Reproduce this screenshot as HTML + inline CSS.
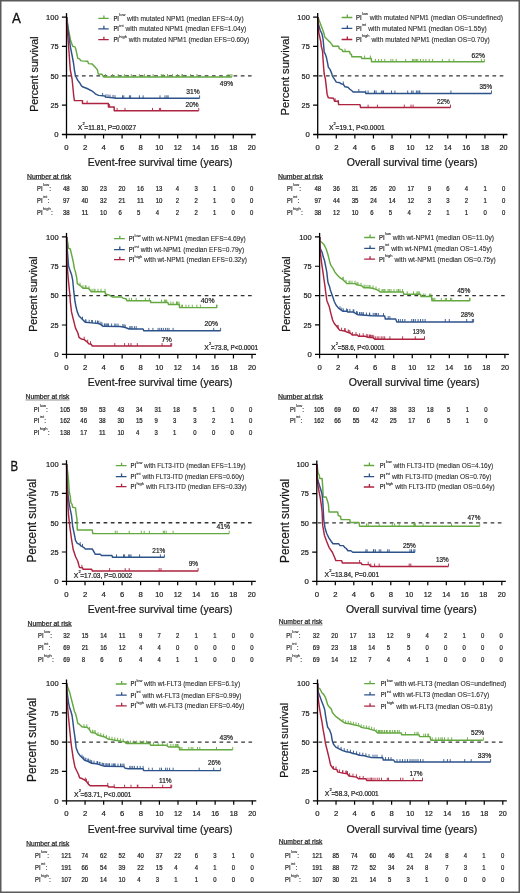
<!DOCTYPE html><html><head><meta charset="utf-8"><style>html,body{margin:0;padding:0;background:#fff}svg{display:block;will-change:transform}text{font-family:"Liberation Sans",sans-serif;stroke:#222;stroke-width:0.22px}</style></head><body>
<svg width="520" height="893" viewBox="0 0 520 893">
<rect x="0" y="0" width="520" height="893" fill="#fff"/>
<g><line x1="67.5" y1="75.8" x2="251.6" y2="75.8" stroke="#333333" stroke-width="1.35" stroke-dasharray="3.7,3.52"/><path d="M66.7 16.8 L68.5 30 L70.5 40 L72.7 46.3 L75 46.9 L76 50 L77.8 58.4 L79.5 58.9 L81.3 60.9 L87.7 61.3 L88.5 63.6 L92.3 64 L93.5 65.5 L95.2 67.1 L97.5 70 L98.2 74 L102 74.3 L103.5 76.9 L231.9 76.9" fill="none" stroke="#64a940" stroke-width="1.45" stroke-linejoin="round"/><path d="M105.5 76.9v-2.9M112.5 76.9v-2.9M118.2 76.9v-2.9M124.4 76.9v-2.9M131.3 76.9v-2.9M139.4 76.9v-2.9M144.4 76.9v-2.9M153.1 76.9v-2.9M161.3 76.9v-2.9M163.1 76.9v-2.9M167.5 76.9v-2.9M172.5 76.9v-2.9M177.5 76.9v-2.9M182.5 76.9v-2.9M181.9 76.9v-2.9M190.6 76.9v-2.9M196.9 76.9v-2.9M228.1 76.9v-2.9M230 76.9v-2.9M231.9 76.9v-2.9" stroke="#64a940" stroke-width="0.9"/><path d="M66.7 17.1 L67 21 L70.3 46.3 L72 55 L73.5 63 L74.4 70 L75.5 75.8 L77.8 80.4 L79.6 82.7 L81.3 85.6 L82.5 86.7 L87.1 88.5 L91.7 90.8 L94 92.5 L95.7 94.2 L98.6 95.4 L105 96 L105.5 97.1 L112.5 97.7 L116 98.2 L199.6 98.2" fill="none" stroke="#2d528a" stroke-width="1.45" stroke-linejoin="round"/><path d="M102.6 95.78v-2.9M106 97.14v-2.9M108 97.31v-2.9M110 97.49v-2.9M113 97.77v-2.9M115 98.06v-2.9M122.5 98.2v-2.9M123.8 98.2v-2.9M129.4 98.2v-2.9M130.6 98.2v-2.9M139.4 98.2v-2.9M143.1 98.2v-2.9M160 98.2v-2.9M165 98.2v-2.9M166.9 98.2v-2.9M168.1 98.2v-2.9M199.6 98.2v-2.9" stroke="#2d528a" stroke-width="0.9"/><path d="M66.7 17.1 L67 25.5 L68.6 46.3 L70.3 70 L72.1 79.2 L73.8 96.5 L74.4 100.6 L82.5 100.6 L82.5 103.5 L108.4 103.5 L108.4 106.9 L114.2 106.9 L114.2 110.8 L198.75 110.8" fill="none" stroke="#ad2340" stroke-width="1.45" stroke-linejoin="round"/><path d="M87.1 103.5v-2.9M109.6 106.9v-2.9M117.1 110.8v-2.9M125 110.8v-2.9M152.5 110.8v-2.9M159.4 110.8v-2.9M160.6 110.8v-2.9M198.75 110.8v-2.9" stroke="#ad2340" stroke-width="0.9"/><path d="M66.5 13.1V135.1" stroke="#000" stroke-width="1.3"/><path d="M61.9 134.5H255.8" stroke="#000" stroke-width="1.3"/><path d="M61.9 105.15H66.5M61.9 75.8H66.5M61.9 46.45H66.5M61.9 17.1H66.5M66.5 134.5V138.5M85.03 134.5V138.5M103.56 134.5V138.5M122.09 134.5V138.5M140.62 134.5V138.5M159.15 134.5V138.5M177.68 134.5V138.5M196.21 134.5V138.5M214.74 134.5V138.5M233.27 134.5V138.5M251.8 134.5V138.5" stroke="#000" stroke-width="1.2"/><text x="58.6" y="137.25" font-size="7.9" text-anchor="end" textLength="4.3" lengthAdjust="spacingAndGlyphs" fill="#222">0</text><text x="58.6" y="107.9" font-size="7.9" text-anchor="end" textLength="8.2" lengthAdjust="spacingAndGlyphs" fill="#222">25</text><text x="58.6" y="78.55" font-size="7.9" text-anchor="end" textLength="8.2" lengthAdjust="spacingAndGlyphs" fill="#222">50</text><text x="58.6" y="49.2" font-size="7.9" text-anchor="end" textLength="8.2" lengthAdjust="spacingAndGlyphs" fill="#222">75</text><text x="58.6" y="19.85" font-size="7.9" text-anchor="end" textLength="12.5" lengthAdjust="spacingAndGlyphs" fill="#222">100</text><text x="66.5" y="149.9" font-size="7.9" text-anchor="middle" textLength="4.3" lengthAdjust="spacingAndGlyphs" fill="#222">0</text><text x="85.03" y="149.9" font-size="7.9" text-anchor="middle" textLength="4.3" lengthAdjust="spacingAndGlyphs" fill="#222">2</text><text x="103.56" y="149.9" font-size="7.9" text-anchor="middle" textLength="4.3" lengthAdjust="spacingAndGlyphs" fill="#222">4</text><text x="122.09" y="149.9" font-size="7.9" text-anchor="middle" textLength="4.3" lengthAdjust="spacingAndGlyphs" fill="#222">6</text><text x="140.62" y="149.9" font-size="7.9" text-anchor="middle" textLength="4.3" lengthAdjust="spacingAndGlyphs" fill="#222">8</text><text x="159.15" y="149.9" font-size="7.9" text-anchor="middle" textLength="8.0" lengthAdjust="spacingAndGlyphs" fill="#222">10</text><text x="177.68" y="149.9" font-size="7.9" text-anchor="middle" textLength="8.0" lengthAdjust="spacingAndGlyphs" fill="#222">12</text><text x="196.21" y="149.9" font-size="7.9" text-anchor="middle" textLength="8.0" lengthAdjust="spacingAndGlyphs" fill="#222">14</text><text x="214.74" y="149.9" font-size="7.9" text-anchor="middle" textLength="8.0" lengthAdjust="spacingAndGlyphs" fill="#222">16</text><text x="233.27" y="149.9" font-size="7.9" text-anchor="middle" textLength="8.0" lengthAdjust="spacingAndGlyphs" fill="#222">18</text><text x="251.8" y="149.9" font-size="7.9" text-anchor="middle" textLength="8.0" lengthAdjust="spacingAndGlyphs" fill="#222">20</text><text transform="translate(37.8 74.15) rotate(-90)" font-size="10.9" text-anchor="middle" textLength="75.3" lengthAdjust="spacingAndGlyphs" fill="#111">Percent survival</text><text x="87.8" y="166.3" font-size="10.8" textLength="144.7" lengthAdjust="spacingAndGlyphs" fill="#111">Event-free survival time (years)</text><path d="M98.3 18.4H108.7M103.9 18.4v-3" stroke="#64a940" stroke-width="1.3"/><text x="113.4" y="20.7" font-size="7" textLength="5.6" lengthAdjust="spacingAndGlyphs" fill="#222">PI</text><text x="119.3" y="16.3" font-size="4.0" style="stroke-width:0.1px" fill="#222">low</text><text x="127" y="20.7" font-size="7" textLength="116.6" lengthAdjust="spacingAndGlyphs" fill="#2a2a2a" style="stroke-width:0.1px;stroke:#2a2a2a">with mutated NPM1 (median EFS=4.0y)</text><path d="M98.3 28.8H108.7M103.9 28.8v-3" stroke="#2d528a" stroke-width="1.3"/><text x="113.4" y="31.1" font-size="7" textLength="5.6" lengthAdjust="spacingAndGlyphs" fill="#222">PI</text><text x="119.3" y="26.7" font-size="4.0" style="stroke-width:0.1px" fill="#222">int</text><text x="125.5" y="31.1" font-size="7" textLength="120.7" lengthAdjust="spacingAndGlyphs" fill="#2a2a2a" style="stroke-width:0.1px;stroke:#2a2a2a">with mutated NPM1 (median EFS=1.04y)</text><path d="M98.3 39.7H108.7M103.9 39.7v-3" stroke="#ad2340" stroke-width="1.3"/><text x="113.4" y="42" font-size="7" textLength="5.6" lengthAdjust="spacingAndGlyphs" fill="#222">PI</text><text x="119.3" y="37.6" font-size="4.0" style="stroke-width:0.1px" fill="#222">high</text><text x="128.8" y="42" font-size="7" textLength="120.5" lengthAdjust="spacingAndGlyphs" fill="#2a2a2a" style="stroke-width:0.1px;stroke:#2a2a2a">with mutated NPM1 (median EFS=0.60y)</text><text x="219.8" y="85.6" font-size="7.3" textLength="13.3" lengthAdjust="spacingAndGlyphs" fill="#222">49%</text><text x="186.2" y="93.8" font-size="7.3" textLength="13.4" lengthAdjust="spacingAndGlyphs" fill="#222">31%</text><text x="185.6" y="107.3" font-size="7.3" textLength="13.1" lengthAdjust="spacingAndGlyphs" fill="#222">20%</text><text x="77.7" y="130.3" font-size="6.8" fill="#222">X</text><text x="82.4" y="125.3" font-size="4" fill="#222">2</text><text x="84.3" y="130.3" font-size="6.8" textLength="51.9" lengthAdjust="spacingAndGlyphs" fill="#222">=11.81, P=0.0027</text><text x="27" y="178.75" font-size="6.4" textLength="44.25" lengthAdjust="spacingAndGlyphs" fill="#222">Number at risk</text><path d="M27 179.45H71.25" stroke="#333" stroke-width="0.6"/><text x="37" y="190.7" font-size="6.9" textLength="5.5" lengthAdjust="spacingAndGlyphs" fill="#222">PI</text><text x="43.1" y="185.9" font-size="4.1" style="stroke-width:0.1px" fill="#222">low</text><text x="49.3" y="190.7" font-size="6.8" fill="#222">:</text><text x="62.98" y="190.7" font-size="6.9" textLength="6.74" lengthAdjust="spacingAndGlyphs" fill="#222">48</text><text x="81.51" y="190.7" font-size="6.9" textLength="6.74" lengthAdjust="spacingAndGlyphs" fill="#222">30</text><text x="100.04" y="190.7" font-size="6.9" textLength="6.74" lengthAdjust="spacingAndGlyphs" fill="#222">23</text><text x="118.57" y="190.7" font-size="6.9" textLength="6.74" lengthAdjust="spacingAndGlyphs" fill="#222">20</text><text x="137.1" y="190.7" font-size="6.9" textLength="6.74" lengthAdjust="spacingAndGlyphs" fill="#222">16</text><text x="155.63" y="190.7" font-size="6.9" textLength="6.74" lengthAdjust="spacingAndGlyphs" fill="#222">13</text><text x="175.87" y="190.7" font-size="6.9" textLength="3.32" lengthAdjust="spacingAndGlyphs" fill="#222">4</text><text x="194.4" y="190.7" font-size="6.9" textLength="3.32" lengthAdjust="spacingAndGlyphs" fill="#222">3</text><text x="212.93" y="190.7" font-size="6.9" textLength="3.32" lengthAdjust="spacingAndGlyphs" fill="#222">1</text><text x="231.46" y="190.7" font-size="6.9" textLength="3.32" lengthAdjust="spacingAndGlyphs" fill="#222">0</text><text x="249.99" y="190.7" font-size="6.9" textLength="3.32" lengthAdjust="spacingAndGlyphs" fill="#222">0</text><text x="37" y="202.9" font-size="6.9" textLength="5.5" lengthAdjust="spacingAndGlyphs" fill="#222">PI</text><text x="43.1" y="198.1" font-size="4.1" style="stroke-width:0.1px" fill="#222">int</text><text x="47.6" y="202.9" font-size="6.8" fill="#222">:</text><text x="62.98" y="202.9" font-size="6.9" textLength="6.74" lengthAdjust="spacingAndGlyphs" fill="#222">97</text><text x="81.51" y="202.9" font-size="6.9" textLength="6.74" lengthAdjust="spacingAndGlyphs" fill="#222">40</text><text x="100.04" y="202.9" font-size="6.9" textLength="6.74" lengthAdjust="spacingAndGlyphs" fill="#222">32</text><text x="118.57" y="202.9" font-size="6.9" textLength="6.74" lengthAdjust="spacingAndGlyphs" fill="#222">21</text><text x="137.1" y="202.9" font-size="6.9" textLength="6.74" lengthAdjust="spacingAndGlyphs" fill="#222">11</text><text x="155.63" y="202.9" font-size="6.9" textLength="6.74" lengthAdjust="spacingAndGlyphs" fill="#222">10</text><text x="175.87" y="202.9" font-size="6.9" textLength="3.32" lengthAdjust="spacingAndGlyphs" fill="#222">2</text><text x="194.4" y="202.9" font-size="6.9" textLength="3.32" lengthAdjust="spacingAndGlyphs" fill="#222">2</text><text x="212.93" y="202.9" font-size="6.9" textLength="3.32" lengthAdjust="spacingAndGlyphs" fill="#222">1</text><text x="231.46" y="202.9" font-size="6.9" textLength="3.32" lengthAdjust="spacingAndGlyphs" fill="#222">0</text><text x="249.99" y="202.9" font-size="6.9" textLength="3.32" lengthAdjust="spacingAndGlyphs" fill="#222">0</text><text x="37" y="214.8" font-size="6.9" textLength="5.5" lengthAdjust="spacingAndGlyphs" fill="#222">PI</text><text x="43.1" y="210" font-size="4.1" style="stroke-width:0.1px" fill="#222">high</text><text x="51" y="214.8" font-size="6.8" fill="#222">:</text><text x="62.98" y="214.8" font-size="6.9" textLength="6.74" lengthAdjust="spacingAndGlyphs" fill="#222">38</text><text x="81.51" y="214.8" font-size="6.9" textLength="6.74" lengthAdjust="spacingAndGlyphs" fill="#222">11</text><text x="100.04" y="214.8" font-size="6.9" textLength="6.74" lengthAdjust="spacingAndGlyphs" fill="#222">10</text><text x="118.57" y="214.8" font-size="6.9" textLength="3.32" lengthAdjust="spacingAndGlyphs" fill="#222">6</text><text x="137.1" y="214.8" font-size="6.9" textLength="3.32" lengthAdjust="spacingAndGlyphs" fill="#222">5</text><text x="155.63" y="214.8" font-size="6.9" textLength="3.32" lengthAdjust="spacingAndGlyphs" fill="#222">4</text><text x="175.87" y="214.8" font-size="6.9" textLength="3.32" lengthAdjust="spacingAndGlyphs" fill="#222">2</text><text x="194.4" y="214.8" font-size="6.9" textLength="3.32" lengthAdjust="spacingAndGlyphs" fill="#222">2</text><text x="212.93" y="214.8" font-size="6.9" textLength="3.32" lengthAdjust="spacingAndGlyphs" fill="#222">1</text><text x="231.46" y="214.8" font-size="6.9" textLength="3.32" lengthAdjust="spacingAndGlyphs" fill="#222">0</text><text x="249.99" y="214.8" font-size="6.9" textLength="3.32" lengthAdjust="spacingAndGlyphs" fill="#222">0</text></g>
<g><line x1="318.7" y1="75.8" x2="503.3" y2="75.8" stroke="#333333" stroke-width="1.35" stroke-dasharray="3.7,3.54"/><path d="M317.9 17.1 L320.2 23.2 L321.9 27.8 L323.7 32.5 L324.8 37.1 L326.5 38.8 L328.8 41.1 L330.6 42.8 L332.3 45.2 L332.9 46.3 L338.7 46.3 L339.2 48.6 L342.1 49.8 L342.7 51.5 L349.6 51.5 L350.2 53.8 L351.3 54.4 L351.9 56.7 L361.2 56.7 L361.7 58.4 L371.3 58.4 L371.5 61.8 L484.5 61.8" fill="none" stroke="#64a940" stroke-width="1.45" stroke-linejoin="round"/><path d="M345 51.5v-2.9M364.6 58.4v-2.9M370.4 58.4v-2.9M375.4 61.8v-2.9M378.7 61.8v-2.9M381.4 61.8v-2.9M384.8 61.8v-2.9M390.9 61.8v-2.9M392.9 61.8v-2.9M396.2 61.8v-2.9M405.7 61.8v-2.9M412.4 61.8v-2.9M413.7 61.8v-2.9M415.1 61.8v-2.9M416.4 61.8v-2.9M417.8 61.8v-2.9M420.5 61.8v-2.9M423.2 61.8v-2.9M425.9 61.8v-2.9M429.2 61.8v-2.9M432.6 61.8v-2.9M442.4 61.8v-2.9M449.1 61.8v-2.9M453.8 61.8v-2.9M481.4 61.8v-2.9M484.3 61.8v-2.9" stroke="#64a940" stroke-width="0.9"/><path d="M317.9 17.1 L318.2 23.2 L320.2 30.2 L321.9 33.6 L323.1 39.4 L323.7 46.3 L324.2 52.1 L325.4 54.4 L326.5 57.8 L327.7 63.6 L328.3 67.1 L330 69.4 L331.7 73.4 L332.3 75.8 L335.2 80.4 L336.3 82.1 L339.8 82.7 L341 83.8 L343.3 84.4 L345 86.7 L347.9 87.3 L349.6 89 L352.5 91.3 L353.1 91.9 L365.2 91.9 L365.8 93.4 L491.5 93.4" fill="none" stroke="#2d528a" stroke-width="1.45" stroke-linejoin="round"/><path d="M343.3 84.4v-2.9M358.8 91.9v-2.9M365.8 93.4v-2.9M368.1 93.4v-2.9M374.4 93.4v-2.9M374.7 93.4v-2.9M376.1 93.4v-2.9M381.4 93.4v-2.9M382.8 93.4v-2.9M383.5 93.4v-2.9M391.5 93.4v-2.9M394.9 93.4v-2.9M407.7 93.4v-2.9M411.7 93.4v-2.9M413.1 93.4v-2.9M416.4 93.4v-2.9M417.8 93.4v-2.9M419.1 93.4v-2.9M419.8 93.4v-2.9M450.9 93.4v-2.9M491.5 93.4v-2.9" stroke="#2d528a" stroke-width="0.9"/><path d="M317.9 17.1 L317.9 24.4 L319 33.6 L320.8 41.7 L321.3 46.3 L322.5 50.9 L323.1 60.2 L323.7 68.2 L324.2 74 L325.4 79.2 L327.1 94.2 L328.3 97.7 L333.5 98.3 L334.6 101.2 L338.1 101.2 L338.7 104.6 L360 104.6 L360.6 107.5 L450.5 107.5" fill="none" stroke="#ad2340" stroke-width="1.45" stroke-linejoin="round"/><path d="M335.2 101.2v-2.9M338.4 102.9v-2.9M368.1 107.5v-2.9M377.4 107.5v-2.9M404.3 107.5v-2.9M411 107.5v-2.9M413.1 107.5v-2.9M450.5 107.5v-2.9" stroke="#ad2340" stroke-width="0.9"/><path d="M317.7 13.1V135.1" stroke="#000" stroke-width="1.3"/><path d="M313.1 134.5H507.5" stroke="#000" stroke-width="1.3"/><path d="M313.1 105.15H317.7M313.1 75.8H317.7M313.1 46.45H317.7M313.1 17.1H317.7M317.7 134.5V138.5M336.28 134.5V138.5M354.86 134.5V138.5M373.44 134.5V138.5M392.02 134.5V138.5M410.6 134.5V138.5M429.18 134.5V138.5M447.76 134.5V138.5M466.34 134.5V138.5M484.92 134.5V138.5M503.5 134.5V138.5" stroke="#000" stroke-width="1.2"/><text x="309.8" y="137.25" font-size="7.9" text-anchor="end" textLength="4.3" lengthAdjust="spacingAndGlyphs" fill="#222">0</text><text x="309.8" y="107.9" font-size="7.9" text-anchor="end" textLength="8.2" lengthAdjust="spacingAndGlyphs" fill="#222">25</text><text x="309.8" y="78.55" font-size="7.9" text-anchor="end" textLength="8.2" lengthAdjust="spacingAndGlyphs" fill="#222">50</text><text x="309.8" y="49.2" font-size="7.9" text-anchor="end" textLength="8.2" lengthAdjust="spacingAndGlyphs" fill="#222">75</text><text x="309.8" y="19.85" font-size="7.9" text-anchor="end" textLength="12.5" lengthAdjust="spacingAndGlyphs" fill="#222">100</text><text x="317.7" y="149.9" font-size="7.9" text-anchor="middle" textLength="4.3" lengthAdjust="spacingAndGlyphs" fill="#222">0</text><text x="336.28" y="149.9" font-size="7.9" text-anchor="middle" textLength="4.3" lengthAdjust="spacingAndGlyphs" fill="#222">2</text><text x="354.86" y="149.9" font-size="7.9" text-anchor="middle" textLength="4.3" lengthAdjust="spacingAndGlyphs" fill="#222">4</text><text x="373.44" y="149.9" font-size="7.9" text-anchor="middle" textLength="4.3" lengthAdjust="spacingAndGlyphs" fill="#222">6</text><text x="392.02" y="149.9" font-size="7.9" text-anchor="middle" textLength="4.3" lengthAdjust="spacingAndGlyphs" fill="#222">8</text><text x="410.6" y="149.9" font-size="7.9" text-anchor="middle" textLength="8.0" lengthAdjust="spacingAndGlyphs" fill="#222">10</text><text x="429.18" y="149.9" font-size="7.9" text-anchor="middle" textLength="8.0" lengthAdjust="spacingAndGlyphs" fill="#222">12</text><text x="447.76" y="149.9" font-size="7.9" text-anchor="middle" textLength="8.0" lengthAdjust="spacingAndGlyphs" fill="#222">14</text><text x="466.34" y="149.9" font-size="7.9" text-anchor="middle" textLength="8.0" lengthAdjust="spacingAndGlyphs" fill="#222">16</text><text x="484.92" y="149.9" font-size="7.9" text-anchor="middle" textLength="8.0" lengthAdjust="spacingAndGlyphs" fill="#222">18</text><text x="503.5" y="149.9" font-size="7.9" text-anchor="middle" textLength="8.0" lengthAdjust="spacingAndGlyphs" fill="#222">20</text><text transform="translate(288.9 75.75) rotate(-90)" font-size="11.48" text-anchor="middle" textLength="79.3" lengthAdjust="spacingAndGlyphs" fill="#111">Percent survival</text><text x="346.8" y="166.3" font-size="10.8" textLength="130.8" lengthAdjust="spacingAndGlyphs" fill="#111">Overall survival time (years)</text><path d="M341.6 17.5H352.3M347.35 17.5v-3" stroke="#64a940" stroke-width="1.3"/><text x="356.1" y="19.8" font-size="7" textLength="5.6" lengthAdjust="spacingAndGlyphs" fill="#222">PI</text><text x="362" y="15.4" font-size="4.0" style="stroke-width:0.1px" fill="#222">low</text><text x="369.7" y="19.8" font-size="7" textLength="133.3" lengthAdjust="spacingAndGlyphs" fill="#2a2a2a" style="stroke-width:0.1px;stroke:#2a2a2a">with mutated NPM1 (median OS=undefined)</text><path d="M341.6 28.4H352.3M347.35 28.4v-3" stroke="#2d528a" stroke-width="1.3"/><text x="356.1" y="30.7" font-size="7" textLength="5.6" lengthAdjust="spacingAndGlyphs" fill="#222">PI</text><text x="362" y="26.3" font-size="4.0" style="stroke-width:0.1px" fill="#222">int</text><text x="368.2" y="30.7" font-size="7" textLength="118.6" lengthAdjust="spacingAndGlyphs" fill="#2a2a2a" style="stroke-width:0.1px;stroke:#2a2a2a">with mutated NPM1 (median OS=1.55y)</text><path d="M341.6 39.5H352.3M347.35 39.5v-3" stroke="#ad2340" stroke-width="1.3"/><text x="356.1" y="41.8" font-size="7" textLength="5.6" lengthAdjust="spacingAndGlyphs" fill="#222">PI</text><text x="362" y="37.4" font-size="4.0" style="stroke-width:0.1px" fill="#222">high</text><text x="371.5" y="41.8" font-size="7" textLength="118.2" lengthAdjust="spacingAndGlyphs" fill="#2a2a2a" style="stroke-width:0.1px;stroke:#2a2a2a">with mutated NPM1 (median OS=0.70y)</text><text x="471.5" y="57.5" font-size="7.3" textLength="13.3" lengthAdjust="spacingAndGlyphs" fill="#222">62%</text><text x="479.6" y="89.2" font-size="7.3" textLength="12.5" lengthAdjust="spacingAndGlyphs" fill="#222">35%</text><text x="436.9" y="103.7" font-size="7.3" textLength="12.9" lengthAdjust="spacingAndGlyphs" fill="#222">22%</text><text x="328.9" y="130" font-size="6.8" fill="#222">X</text><text x="333.6" y="125" font-size="4" fill="#222">2</text><text x="335.5" y="130" font-size="6.8" textLength="49.1" lengthAdjust="spacingAndGlyphs" fill="#222">=19.1, P<0.0001</text><text x="278" y="178.75" font-size="6.4" textLength="45" lengthAdjust="spacingAndGlyphs" fill="#222">Number at risk</text><path d="M278 179.45H323" stroke="#333" stroke-width="0.6"/><text x="287" y="190.7" font-size="6.9" textLength="5.5" lengthAdjust="spacingAndGlyphs" fill="#222">PI</text><text x="293.1" y="185.9" font-size="4.1" style="stroke-width:0.1px" fill="#222">low</text><text x="299.3" y="190.7" font-size="6.8" fill="#222">:</text><text x="314.48" y="190.7" font-size="6.9" textLength="6.74" lengthAdjust="spacingAndGlyphs" fill="#222">48</text><text x="333.06" y="190.7" font-size="6.9" textLength="6.74" lengthAdjust="spacingAndGlyphs" fill="#222">36</text><text x="351.64" y="190.7" font-size="6.9" textLength="6.74" lengthAdjust="spacingAndGlyphs" fill="#222">31</text><text x="370.22" y="190.7" font-size="6.9" textLength="6.74" lengthAdjust="spacingAndGlyphs" fill="#222">26</text><text x="388.8" y="190.7" font-size="6.9" textLength="6.74" lengthAdjust="spacingAndGlyphs" fill="#222">20</text><text x="407.38" y="190.7" font-size="6.9" textLength="6.74" lengthAdjust="spacingAndGlyphs" fill="#222">17</text><text x="427.67" y="190.7" font-size="6.9" textLength="3.32" lengthAdjust="spacingAndGlyphs" fill="#222">9</text><text x="446.25" y="190.7" font-size="6.9" textLength="3.32" lengthAdjust="spacingAndGlyphs" fill="#222">6</text><text x="464.83" y="190.7" font-size="6.9" textLength="3.32" lengthAdjust="spacingAndGlyphs" fill="#222">4</text><text x="483.41" y="190.7" font-size="6.9" textLength="3.32" lengthAdjust="spacingAndGlyphs" fill="#222">1</text><text x="501.99" y="190.7" font-size="6.9" textLength="3.32" lengthAdjust="spacingAndGlyphs" fill="#222">0</text><text x="287" y="202.9" font-size="6.9" textLength="5.5" lengthAdjust="spacingAndGlyphs" fill="#222">PI</text><text x="293.1" y="198.1" font-size="4.1" style="stroke-width:0.1px" fill="#222">int</text><text x="297.6" y="202.9" font-size="6.8" fill="#222">:</text><text x="314.48" y="202.9" font-size="6.9" textLength="6.74" lengthAdjust="spacingAndGlyphs" fill="#222">97</text><text x="333.06" y="202.9" font-size="6.9" textLength="6.74" lengthAdjust="spacingAndGlyphs" fill="#222">44</text><text x="351.64" y="202.9" font-size="6.9" textLength="6.74" lengthAdjust="spacingAndGlyphs" fill="#222">35</text><text x="370.22" y="202.9" font-size="6.9" textLength="6.74" lengthAdjust="spacingAndGlyphs" fill="#222">24</text><text x="388.8" y="202.9" font-size="6.9" textLength="6.74" lengthAdjust="spacingAndGlyphs" fill="#222">14</text><text x="407.38" y="202.9" font-size="6.9" textLength="6.74" lengthAdjust="spacingAndGlyphs" fill="#222">12</text><text x="427.67" y="202.9" font-size="6.9" textLength="3.32" lengthAdjust="spacingAndGlyphs" fill="#222">3</text><text x="446.25" y="202.9" font-size="6.9" textLength="3.32" lengthAdjust="spacingAndGlyphs" fill="#222">3</text><text x="464.83" y="202.9" font-size="6.9" textLength="3.32" lengthAdjust="spacingAndGlyphs" fill="#222">2</text><text x="483.41" y="202.9" font-size="6.9" textLength="3.32" lengthAdjust="spacingAndGlyphs" fill="#222">1</text><text x="501.99" y="202.9" font-size="6.9" textLength="3.32" lengthAdjust="spacingAndGlyphs" fill="#222">0</text><text x="287" y="214.8" font-size="6.9" textLength="5.5" lengthAdjust="spacingAndGlyphs" fill="#222">PI</text><text x="293.1" y="210" font-size="4.1" style="stroke-width:0.1px" fill="#222">high</text><text x="301" y="214.8" font-size="6.8" fill="#222">:</text><text x="314.48" y="214.8" font-size="6.9" textLength="6.74" lengthAdjust="spacingAndGlyphs" fill="#222">38</text><text x="333.06" y="214.8" font-size="6.9" textLength="6.74" lengthAdjust="spacingAndGlyphs" fill="#222">12</text><text x="351.64" y="214.8" font-size="6.9" textLength="6.74" lengthAdjust="spacingAndGlyphs" fill="#222">10</text><text x="370.22" y="214.8" font-size="6.9" textLength="3.32" lengthAdjust="spacingAndGlyphs" fill="#222">6</text><text x="388.8" y="214.8" font-size="6.9" textLength="3.32" lengthAdjust="spacingAndGlyphs" fill="#222">5</text><text x="407.38" y="214.8" font-size="6.9" textLength="3.32" lengthAdjust="spacingAndGlyphs" fill="#222">4</text><text x="427.67" y="214.8" font-size="6.9" textLength="3.32" lengthAdjust="spacingAndGlyphs" fill="#222">2</text><text x="446.25" y="214.8" font-size="6.9" textLength="3.32" lengthAdjust="spacingAndGlyphs" fill="#222">1</text><text x="464.83" y="214.8" font-size="6.9" textLength="3.32" lengthAdjust="spacingAndGlyphs" fill="#222">1</text><text x="483.41" y="214.8" font-size="6.9" textLength="3.32" lengthAdjust="spacingAndGlyphs" fill="#222">0</text><text x="501.99" y="214.8" font-size="6.9" textLength="3.32" lengthAdjust="spacingAndGlyphs" fill="#222">0</text></g>
<g><line x1="67.5" y1="295.65" x2="251.8" y2="295.65" stroke="#333333" stroke-width="1.35" stroke-dasharray="3.7,3.52"/><path d="M66.7 236.9 L68 244.4 L68.6 248.4 L70.3 249 L71.5 254.2 L73.2 261.7 L74.4 268.6 L75.5 272.1 L76.7 277.8 L77.3 283.6 L79 284.8 L81.3 286.5 L83 288.2 L88.2 288.2 L90 290 L91.1 291.7 L105 291.7 L105.5 294 L107.8 294.6 L109.6 295.2 L111.3 296.3 L112.5 296.9 L121.7 296.9 L122.8 298.1 L124.6 298.5 L126.3 299 L126.9 300.8 L150.6 300.8 L150.6 302.5 L167.9 302.5 L168.5 304.5 L179.2 304.5 L179.6 307.6 L217.1 307.6" fill="none" stroke="#64a940" stroke-width="1.45" stroke-linejoin="round"/><path d="M85.3 288.2v-2.9M94 291.7v-2.9M105 291.7v-2.9M129.2 300.8v-2.9M131.5 300.8v-2.9M136.2 300.8v-2.9M145.4 300.8v-2.9M149.4 300.8v-2.9M161.5 302.5v-2.9M164.4 302.5v-2.9M165.6 302.5v-2.9M166.7 302.5v-2.9M170.8 304.5v-2.9M173.1 304.5v-2.9M176.5 304.5v-2.9M177.7 304.5v-2.9M176.7 304.5v-2.9M179 304.5v-2.9M181.3 307.6v-2.9M182.5 307.6v-2.9M186 307.6v-2.9M188.8 307.6v-2.9M192.3 307.6v-2.9M196.9 307.6v-2.9M200.4 307.6v-2.9M216.5 307.6v-2.9M217.1 307.6v-2.9M80 285.54v-2.9M83 288.2v-2.9M86 288.2v-2.9M89 289v-2.9M92 291.7v-2.9M95 291.7v-2.9M98 291.7v-2.9M101 291.7v-2.9" stroke="#64a940" stroke-width="0.9"/><path d="M66.7 236.9 L66.7 242.1 L67.5 252.5 L68.6 266.3 L69.8 269.8 L71.5 274.4 L72.7 280.2 L73.8 291.7 L75 301.5 L76.1 307.3 L77.3 311.9 L79 316 L81.3 318.3 L83 320 L85.3 322.3 L91.7 322.9 L98.6 323.5 L100.9 324.6 L103.2 326.3 L120 326.5 L124.6 327.3 L129.2 329 L143.1 329 L143.7 330.8 L220.6 330.8" fill="none" stroke="#2d528a" stroke-width="1.45" stroke-linejoin="round"/><path d="M82.5 319.5v-2.9M85.3 322.3v-2.9M91.7 322.9v-2.9M97.5 323.4v-2.9M100.9 324.6v-2.9M104.4 326.31v-2.9M106.7 326.34v-2.9M107.8 326.35v-2.9M116 326.45v-2.9M122.8 326.99v-2.9M124 327.2v-2.9M125.2 327.52v-2.9M129.8 329v-2.9M131 329v-2.9M132.1 329v-2.9M134.4 329v-2.9M136.2 329v-2.9M148.8 330.8v-2.9M152.9 330.8v-2.9M158.1 330.8v-2.9M159.8 330.8v-2.9M161.5 330.8v-2.9M163.3 330.8v-2.9M165.6 330.8v-2.9M167.3 330.8v-2.9M169 330.8v-2.9M173.1 330.8v-2.9M213.7 330.8v-2.9M220.6 330.8v-2.9M86 322.37v-2.9M89.2 322.67v-2.9M92.4 322.96v-2.9M95.6 323.24v-2.9M98.8 323.6v-2.9M102 325.41v-2.9M105.2 326.32v-2.9M108.4 326.36v-2.9M111.6 326.4v-2.9M114.8 326.44v-2.9M118 326.48v-2.9" stroke="#2d528a" stroke-width="0.9"/><path d="M66.7 236.9 L66.7 244.4 L67.2 266.3 L68.4 280.2 L69.8 294 L70.3 301.5 L71.5 311.9 L73.2 318.8 L75.5 328.1 L77.8 332.7 L79 337.3 L81.3 339 L84.2 339.6 L87.1 341.9 L88.8 343.7 L91.1 344.2 L92.3 346 L171.7 346" fill="none" stroke="#ad2340" stroke-width="1.45" stroke-linejoin="round"/><path d="M84.2 339.6v-2.9M87.7 342.54v-2.9M90.5 344.07v-2.9M114.8 346v-2.9M124.6 346v-2.9M128.7 346v-2.9M131 346v-2.9M137.3 346v-2.9M162.1 346v-2.9M170.8 346v-2.9M171.7 346v-2.9" stroke="#ad2340" stroke-width="0.9"/><path d="M66.5 232.9V355" stroke="#000" stroke-width="1.3"/><path d="M61.9 354.4H256" stroke="#000" stroke-width="1.3"/><path d="M61.9 325.02H66.5M61.9 295.65H66.5M61.9 266.27H66.5M61.9 236.9H66.5M66.5 354.4V358.4M85.05 354.4V358.4M103.6 354.4V358.4M122.15 354.4V358.4M140.7 354.4V358.4M159.25 354.4V358.4M177.8 354.4V358.4M196.35 354.4V358.4M214.9 354.4V358.4M233.45 354.4V358.4M252 354.4V358.4" stroke="#000" stroke-width="1.2"/><text x="58.6" y="357.15" font-size="7.9" text-anchor="end" textLength="4.3" lengthAdjust="spacingAndGlyphs" fill="#222">0</text><text x="58.6" y="327.77" font-size="7.9" text-anchor="end" textLength="8.2" lengthAdjust="spacingAndGlyphs" fill="#222">25</text><text x="58.6" y="298.4" font-size="7.9" text-anchor="end" textLength="8.2" lengthAdjust="spacingAndGlyphs" fill="#222">50</text><text x="58.6" y="269.02" font-size="7.9" text-anchor="end" textLength="8.2" lengthAdjust="spacingAndGlyphs" fill="#222">75</text><text x="58.6" y="239.65" font-size="7.9" text-anchor="end" textLength="12.5" lengthAdjust="spacingAndGlyphs" fill="#222">100</text><text x="66.5" y="369.8" font-size="7.9" text-anchor="middle" textLength="4.3" lengthAdjust="spacingAndGlyphs" fill="#222">0</text><text x="85.05" y="369.8" font-size="7.9" text-anchor="middle" textLength="4.3" lengthAdjust="spacingAndGlyphs" fill="#222">2</text><text x="103.6" y="369.8" font-size="7.9" text-anchor="middle" textLength="4.3" lengthAdjust="spacingAndGlyphs" fill="#222">4</text><text x="122.15" y="369.8" font-size="7.9" text-anchor="middle" textLength="4.3" lengthAdjust="spacingAndGlyphs" fill="#222">6</text><text x="140.7" y="369.8" font-size="7.9" text-anchor="middle" textLength="4.3" lengthAdjust="spacingAndGlyphs" fill="#222">8</text><text x="159.25" y="369.8" font-size="7.9" text-anchor="middle" textLength="8.0" lengthAdjust="spacingAndGlyphs" fill="#222">10</text><text x="177.8" y="369.8" font-size="7.9" text-anchor="middle" textLength="8.0" lengthAdjust="spacingAndGlyphs" fill="#222">12</text><text x="196.35" y="369.8" font-size="7.9" text-anchor="middle" textLength="8.0" lengthAdjust="spacingAndGlyphs" fill="#222">14</text><text x="214.9" y="369.8" font-size="7.9" text-anchor="middle" textLength="8.0" lengthAdjust="spacingAndGlyphs" fill="#222">16</text><text x="233.45" y="369.8" font-size="7.9" text-anchor="middle" textLength="8.0" lengthAdjust="spacingAndGlyphs" fill="#222">18</text><text x="252" y="369.8" font-size="7.9" text-anchor="middle" textLength="8.0" lengthAdjust="spacingAndGlyphs" fill="#222">20</text><text transform="translate(37 294.15) rotate(-90)" font-size="10.9" text-anchor="middle" textLength="75.3" lengthAdjust="spacingAndGlyphs" fill="#111">Percent survival</text><text x="87.8" y="386.2" font-size="10.8" textLength="144.7" lengthAdjust="spacingAndGlyphs" fill="#111">Event-free survival time (years)</text><path d="M114 238.7H124.8M119.8 238.7v-3" stroke="#64a940" stroke-width="1.3"/><text x="128.7" y="241" font-size="7" textLength="5.6" lengthAdjust="spacingAndGlyphs" fill="#222">PI</text><text x="134.6" y="236.6" font-size="4.0" style="stroke-width:0.1px" fill="#222">low</text><text x="142.3" y="241" font-size="7" textLength="103.5" lengthAdjust="spacingAndGlyphs" fill="#2a2a2a" style="stroke-width:0.1px;stroke:#2a2a2a">with wt-NPM1 (median EFS=4.69y)</text><path d="M114 249.6H124.8M119.8 249.6v-3" stroke="#2d528a" stroke-width="1.3"/><text x="128.7" y="251.9" font-size="7" textLength="5.6" lengthAdjust="spacingAndGlyphs" fill="#222">PI</text><text x="134.6" y="247.5" font-size="4.0" style="stroke-width:0.1px" fill="#222">int</text><text x="140.8" y="251.9" font-size="7" textLength="103.3" lengthAdjust="spacingAndGlyphs" fill="#2a2a2a" style="stroke-width:0.1px;stroke:#2a2a2a">with wt-NPM1 (median EFS=0.79y)</text><path d="M114 259.7H124.8M119.8 259.7v-3" stroke="#ad2340" stroke-width="1.3"/><text x="128.7" y="262" font-size="7" textLength="5.6" lengthAdjust="spacingAndGlyphs" fill="#222">PI</text><text x="134.6" y="257.6" font-size="4.0" style="stroke-width:0.1px" fill="#222">high</text><text x="144.1" y="262" font-size="7" textLength="102.9" lengthAdjust="spacingAndGlyphs" fill="#2a2a2a" style="stroke-width:0.1px;stroke:#2a2a2a">with wt-NPM1 (median EFS=0.32y)</text><text x="200.8" y="303.1" font-size="7.3" textLength="13.7" lengthAdjust="spacingAndGlyphs" fill="#222">40%</text><text x="204.6" y="325.5" font-size="7.3" textLength="13.5" lengthAdjust="spacingAndGlyphs" fill="#222">20%</text><text x="161.6" y="341.8" font-size="7.3" textLength="10.2" lengthAdjust="spacingAndGlyphs" fill="#222">7%</text><text x="204.2" y="350.3" font-size="6.8" fill="#222">X</text><text x="208.9" y="345.3" font-size="4" fill="#222">2</text><text x="210.8" y="350.3" font-size="6.8" textLength="47.2" lengthAdjust="spacingAndGlyphs" fill="#222">=73.8, P<0.0001</text><text x="25.5" y="399.25" font-size="6.4" textLength="44" lengthAdjust="spacingAndGlyphs" fill="#222">Number at risk</text><path d="M25.5 399.95H69.5" stroke="#333" stroke-width="0.6"/><text x="33.75" y="411.65" font-size="6.9" textLength="5.5" lengthAdjust="spacingAndGlyphs" fill="#222">PI</text><text x="39.85" y="406.85" font-size="4.1" style="stroke-width:0.1px" fill="#222">low</text><text x="46.05" y="411.65" font-size="6.8" fill="#222">:</text><text x="60.07" y="411.65" font-size="6.9" textLength="10.16" lengthAdjust="spacingAndGlyphs" fill="#222">105</text><text x="80.33" y="411.65" font-size="6.9" textLength="6.74" lengthAdjust="spacingAndGlyphs" fill="#222">59</text><text x="98.88" y="411.65" font-size="6.9" textLength="6.74" lengthAdjust="spacingAndGlyphs" fill="#222">53</text><text x="117.43" y="411.65" font-size="6.9" textLength="6.74" lengthAdjust="spacingAndGlyphs" fill="#222">43</text><text x="135.98" y="411.65" font-size="6.9" textLength="6.74" lengthAdjust="spacingAndGlyphs" fill="#222">34</text><text x="154.53" y="411.65" font-size="6.9" textLength="6.74" lengthAdjust="spacingAndGlyphs" fill="#222">31</text><text x="173.08" y="411.65" font-size="6.9" textLength="6.74" lengthAdjust="spacingAndGlyphs" fill="#222">18</text><text x="193.34" y="411.65" font-size="6.9" textLength="3.32" lengthAdjust="spacingAndGlyphs" fill="#222">5</text><text x="211.89" y="411.65" font-size="6.9" textLength="3.32" lengthAdjust="spacingAndGlyphs" fill="#222">1</text><text x="230.44" y="411.65" font-size="6.9" textLength="3.32" lengthAdjust="spacingAndGlyphs" fill="#222">0</text><text x="248.99" y="411.65" font-size="6.9" textLength="3.32" lengthAdjust="spacingAndGlyphs" fill="#222">0</text><text x="33.75" y="423.15" font-size="6.9" textLength="5.5" lengthAdjust="spacingAndGlyphs" fill="#222">PI</text><text x="39.85" y="418.35" font-size="4.1" style="stroke-width:0.1px" fill="#222">int</text><text x="44.35" y="423.15" font-size="6.8" fill="#222">:</text><text x="60.07" y="423.15" font-size="6.9" textLength="10.16" lengthAdjust="spacingAndGlyphs" fill="#222">162</text><text x="80.33" y="423.15" font-size="6.9" textLength="6.74" lengthAdjust="spacingAndGlyphs" fill="#222">46</text><text x="98.88" y="423.15" font-size="6.9" textLength="6.74" lengthAdjust="spacingAndGlyphs" fill="#222">38</text><text x="117.43" y="423.15" font-size="6.9" textLength="6.74" lengthAdjust="spacingAndGlyphs" fill="#222">30</text><text x="135.98" y="423.15" font-size="6.9" textLength="6.74" lengthAdjust="spacingAndGlyphs" fill="#222">15</text><text x="154.53" y="423.15" font-size="6.9" textLength="3.32" lengthAdjust="spacingAndGlyphs" fill="#222">9</text><text x="173.08" y="423.15" font-size="6.9" textLength="3.32" lengthAdjust="spacingAndGlyphs" fill="#222">3</text><text x="193.34" y="423.15" font-size="6.9" textLength="3.32" lengthAdjust="spacingAndGlyphs" fill="#222">3</text><text x="211.89" y="423.15" font-size="6.9" textLength="3.32" lengthAdjust="spacingAndGlyphs" fill="#222">2</text><text x="230.44" y="423.15" font-size="6.9" textLength="3.32" lengthAdjust="spacingAndGlyphs" fill="#222">1</text><text x="248.99" y="423.15" font-size="6.9" textLength="3.32" lengthAdjust="spacingAndGlyphs" fill="#222">0</text><text x="33.75" y="434.9" font-size="6.9" textLength="5.5" lengthAdjust="spacingAndGlyphs" fill="#222">PI</text><text x="39.85" y="430.1" font-size="4.1" style="stroke-width:0.1px" fill="#222">high</text><text x="47.75" y="434.9" font-size="6.8" fill="#222">:</text><text x="60.07" y="434.9" font-size="6.9" textLength="10.16" lengthAdjust="spacingAndGlyphs" fill="#222">138</text><text x="80.33" y="434.9" font-size="6.9" textLength="6.74" lengthAdjust="spacingAndGlyphs" fill="#222">17</text><text x="98.88" y="434.9" font-size="6.9" textLength="6.74" lengthAdjust="spacingAndGlyphs" fill="#222">11</text><text x="117.43" y="434.9" font-size="6.9" textLength="6.74" lengthAdjust="spacingAndGlyphs" fill="#222">10</text><text x="135.98" y="434.9" font-size="6.9" textLength="3.32" lengthAdjust="spacingAndGlyphs" fill="#222">4</text><text x="154.53" y="434.9" font-size="6.9" textLength="3.32" lengthAdjust="spacingAndGlyphs" fill="#222">3</text><text x="173.08" y="434.9" font-size="6.9" textLength="3.32" lengthAdjust="spacingAndGlyphs" fill="#222">1</text><text x="193.34" y="434.9" font-size="6.9" textLength="3.32" lengthAdjust="spacingAndGlyphs" fill="#222">0</text><text x="211.89" y="434.9" font-size="6.9" textLength="3.32" lengthAdjust="spacingAndGlyphs" fill="#222">0</text><text x="230.44" y="434.9" font-size="6.9" textLength="3.32" lengthAdjust="spacingAndGlyphs" fill="#222">0</text><text x="248.99" y="434.9" font-size="6.9" textLength="3.32" lengthAdjust="spacingAndGlyphs" fill="#222">0</text></g>
<g><line x1="320.6" y1="295.6" x2="504.7" y2="295.6" stroke="#333333" stroke-width="1.35" stroke-dasharray="3.7,3.52"/><path d="M319.8 236.9 L319.9 240.9 L322.2 242.7 L323.9 244.4 L325.1 246.7 L326.2 249 L328 254.8 L329.7 261.7 L330.8 265.2 L333.2 268.6 L334.9 272.1 L337.2 275 L339.5 277.3 L341.8 279 L343.5 280.2 L345.8 282.5 L347 283.6 L355.1 283.6 L356.8 284.8 L362 285.9 L363.7 287.7 L368.3 287.7 L372.4 288.2 L376.6 289.6 L378.9 290.8 L380.1 291.9 L403.2 291.9 L403.7 294.2 L420.5 294.2 L421 296.5 L431.5 296.5 L432 300.8 L470.1 300.8" fill="none" stroke="#64a940" stroke-width="1.45" stroke-linejoin="round"/><path d="M343 279.85v-2.9M350 283.6v-2.9M357 284.84v-2.9M365 287.7v-2.9M369 287.79v-2.9M383 291.9v-2.9M384.1 291.9v-2.9M389.3 291.9v-2.9M398.5 291.9v-2.9M402.6 291.9v-2.9M407.2 294.2v-2.9M413.5 294.2v-2.9M417 294.2v-2.9M418.1 294.2v-2.9M419.3 294.2v-2.9M423.3 296.5v-2.9M425.1 296.5v-2.9M429.7 296.5v-2.9M430.9 296.5v-2.9M432.6 300.8v-2.9M433.8 300.8v-2.9M434.9 300.8v-2.9M441.3 300.8v-2.9M445.3 300.8v-2.9M446.5 300.8v-2.9M450.5 300.8v-2.9M451.7 300.8v-2.9M469.5 300.8v-2.9M470.1 300.8v-2.9M343 279.85v-2.9M346 282.68v-2.9M349 283.6v-2.9M352 283.6v-2.9M355 283.6v-2.9M358 285.05v-2.9M361 285.69v-2.9M364 287.7v-2.9M367 287.7v-2.9M370 287.91v-2.9M373 288.4v-2.9M376 289.4v-2.9M379 290.89v-2.9M382 291.9v-2.9M385 291.9v-2.9M388 291.9v-2.9M391 291.9v-2.9M394 291.9v-2.9M397 291.9v-2.9M400 291.9v-2.9" stroke="#64a940" stroke-width="0.9"/><path d="M319.8 236.9 L319.8 243.2 L320.5 249 L322.2 252.5 L323.3 257.1 L324.5 260.5 L325.7 266.3 L326.8 272.1 L327.4 277.8 L328 282.5 L329.7 287.1 L330.3 290 L332.6 296.3 L334.3 301.5 L336 305 L338.3 307.9 L341.2 310.2 L343 311.3 L347 311.3 L347.6 311.9 L352.8 311.9 L355.1 313.1 L356.8 314.2 L358.5 314.8 L372 315.8 L384.7 316 L385.3 319 L395.7 319 L396.8 321.9 L473.6 321.9" fill="none" stroke="#2d528a" stroke-width="1.45" stroke-linejoin="round"/><path d="M341.8 310.57v-2.9M347.6 311.9v-2.9M353.9 312.47v-2.9M357.4 314.41v-2.9M359.7 314.89v-2.9M361.4 315.01v-2.9M363.2 315.15v-2.9M369.5 315.61v-2.9M375.8 315.86v-2.9M373.2 315.82v-2.9M374.9 315.85v-2.9M376.6 315.87v-2.9M378.3 315.9v-2.9M383.5 315.98v-2.9M388.2 319v-2.9M389.9 319v-2.9M398.5 321.9v-2.9M400.3 321.9v-2.9M402.6 321.9v-2.9M404.9 321.9v-2.9M411.8 321.9v-2.9M413.5 321.9v-2.9M415.3 321.9v-2.9M418.1 321.9v-2.9M420.5 321.9v-2.9M422.8 321.9v-2.9M425.1 321.9v-2.9M445.3 321.9v-2.9M449.3 321.9v-2.9M466.7 321.9v-2.9M472.4 321.9v-2.9M473.6 321.9v-2.9M340 309.25v-2.9M343.3 311.3v-2.9M346.6 311.3v-2.9M349.9 311.9v-2.9M353.2 312.11v-2.9M356.5 314.01v-2.9M359.8 314.9v-2.9M363.1 315.14v-2.9M366.4 315.39v-2.9M369.7 315.63v-2.9" stroke="#2d528a" stroke-width="0.9"/><path d="M319.8 236.9 L319.8 246.7 L320.5 253.6 L321.6 262.8 L322.8 270.9 L323.9 279 L325.1 287.1 L325.4 290 L326.8 300.4 L329.1 306.2 L330.8 313.1 L332.6 320 L334.3 323.5 L336.6 326.3 L338.9 329.2 L340.1 330.4 L344.7 331 L347 332.1 L350.5 333.3 L352.2 335 L357.4 335 L358.5 336.2 L364.9 336.2 L366.6 336.7 L367.8 337.3 L373.5 337.9 L374.7 339.2 L424.7 339.2" fill="none" stroke="#ad2340" stroke-width="1.45" stroke-linejoin="round"/><path d="M337.8 327.81v-2.9M344.7 331v-2.9M348.2 332.51v-2.9M349.9 333.09v-2.9M367.8 337.3v-2.9M369.5 337.48v-2.9M371.2 337.66v-2.9M372.4 337.78v-2.9M375.3 339.2v-2.9M373.7 338.12v-2.9M377.2 339.2v-2.9M378.9 339.2v-2.9M381.2 339.2v-2.9M383 339.2v-2.9M384.7 339.2v-2.9M389.9 339.2v-2.9M402.6 339.2v-2.9M415.3 339.2v-2.9M424.5 339.2v-2.9M338 328.07v-2.9M341.6 330.6v-2.9M345.2 331.24v-2.9M348.8 332.72v-2.9M352.4 335v-2.9M356 335v-2.9M359.6 336.2v-2.9M363.2 336.2v-2.9M366.8 336.8v-2.9M370.4 337.57v-2.9" stroke="#ad2340" stroke-width="0.9"/><path d="M319.6 232.9V354.9" stroke="#000" stroke-width="1.3"/><path d="M315 354.3H508.9" stroke="#000" stroke-width="1.3"/><path d="M315 324.95H319.6M315 295.6H319.6M315 266.25H319.6M315 236.9H319.6M319.6 354.3V358.3M338.13 354.3V358.3M356.66 354.3V358.3M375.19 354.3V358.3M393.72 354.3V358.3M412.25 354.3V358.3M430.78 354.3V358.3M449.31 354.3V358.3M467.84 354.3V358.3M486.37 354.3V358.3M504.9 354.3V358.3" stroke="#000" stroke-width="1.2"/><text x="311.7" y="357.05" font-size="7.9" text-anchor="end" textLength="4.3" lengthAdjust="spacingAndGlyphs" fill="#222">0</text><text x="311.7" y="327.7" font-size="7.9" text-anchor="end" textLength="8.2" lengthAdjust="spacingAndGlyphs" fill="#222">25</text><text x="311.7" y="298.35" font-size="7.9" text-anchor="end" textLength="8.2" lengthAdjust="spacingAndGlyphs" fill="#222">50</text><text x="311.7" y="269" font-size="7.9" text-anchor="end" textLength="8.2" lengthAdjust="spacingAndGlyphs" fill="#222">75</text><text x="311.7" y="239.65" font-size="7.9" text-anchor="end" textLength="12.5" lengthAdjust="spacingAndGlyphs" fill="#222">100</text><text x="319.6" y="369.7" font-size="7.9" text-anchor="middle" textLength="4.3" lengthAdjust="spacingAndGlyphs" fill="#222">0</text><text x="338.13" y="369.7" font-size="7.9" text-anchor="middle" textLength="4.3" lengthAdjust="spacingAndGlyphs" fill="#222">2</text><text x="356.66" y="369.7" font-size="7.9" text-anchor="middle" textLength="4.3" lengthAdjust="spacingAndGlyphs" fill="#222">4</text><text x="375.19" y="369.7" font-size="7.9" text-anchor="middle" textLength="4.3" lengthAdjust="spacingAndGlyphs" fill="#222">6</text><text x="393.72" y="369.7" font-size="7.9" text-anchor="middle" textLength="4.3" lengthAdjust="spacingAndGlyphs" fill="#222">8</text><text x="412.25" y="369.7" font-size="7.9" text-anchor="middle" textLength="8.0" lengthAdjust="spacingAndGlyphs" fill="#222">10</text><text x="430.78" y="369.7" font-size="7.9" text-anchor="middle" textLength="8.0" lengthAdjust="spacingAndGlyphs" fill="#222">12</text><text x="449.31" y="369.7" font-size="7.9" text-anchor="middle" textLength="8.0" lengthAdjust="spacingAndGlyphs" fill="#222">14</text><text x="467.84" y="369.7" font-size="7.9" text-anchor="middle" textLength="8.0" lengthAdjust="spacingAndGlyphs" fill="#222">16</text><text x="486.37" y="369.7" font-size="7.9" text-anchor="middle" textLength="8.0" lengthAdjust="spacingAndGlyphs" fill="#222">18</text><text x="504.9" y="369.7" font-size="7.9" text-anchor="middle" textLength="8.0" lengthAdjust="spacingAndGlyphs" fill="#222">20</text><text transform="translate(290.4 294.15) rotate(-90)" font-size="10.9" text-anchor="middle" textLength="75.3" lengthAdjust="spacingAndGlyphs" fill="#111">Percent survival</text><text x="348.7" y="386.1" font-size="10.8" textLength="130.8" lengthAdjust="spacingAndGlyphs" fill="#111">Overall survival time (years)</text><path d="M364.2 237.5H375.1M370.05 237.5v-3" stroke="#64a940" stroke-width="1.3"/><text x="379.1" y="239.8" font-size="7" textLength="5.6" lengthAdjust="spacingAndGlyphs" fill="#222">PI</text><text x="385" y="235.4" font-size="4.0" style="stroke-width:0.1px" fill="#222">low</text><text x="392.7" y="239.8" font-size="7" textLength="101.3" lengthAdjust="spacingAndGlyphs" fill="#2a2a2a" style="stroke-width:0.1px;stroke:#2a2a2a">with wt-NPM1 (median OS=11.0y)</text><path d="M364.2 248.4H375.1M370.05 248.4v-3" stroke="#2d528a" stroke-width="1.3"/><text x="379.1" y="250.7" font-size="7" textLength="5.6" lengthAdjust="spacingAndGlyphs" fill="#222">PI</text><text x="385" y="246.3" font-size="4.0" style="stroke-width:0.1px" fill="#222">int</text><text x="391.2" y="250.7" font-size="7" textLength="100.8" lengthAdjust="spacingAndGlyphs" fill="#2a2a2a" style="stroke-width:0.1px;stroke:#2a2a2a">with wt-NPM1 (median OS=1.45y)</text><path d="M364.2 259.2H375.1M370.05 259.2v-3" stroke="#ad2340" stroke-width="1.3"/><text x="379.1" y="261.5" font-size="7" textLength="5.6" lengthAdjust="spacingAndGlyphs" fill="#222">PI</text><text x="385" y="257.1" font-size="4.0" style="stroke-width:0.1px" fill="#222">high</text><text x="394.5" y="261.5" font-size="7" textLength="101.3" lengthAdjust="spacingAndGlyphs" fill="#2a2a2a" style="stroke-width:0.1px;stroke:#2a2a2a">with wt-NPM1 (median OS=0.75y)</text><text x="457.2" y="293.4" font-size="7.3" textLength="13.2" lengthAdjust="spacingAndGlyphs" fill="#222">45%</text><text x="460.7" y="317.4" font-size="7.3" textLength="13.1" lengthAdjust="spacingAndGlyphs" fill="#222">28%</text><text x="412.7" y="333.8" font-size="7.3" textLength="12.2" lengthAdjust="spacingAndGlyphs" fill="#222">13%</text><text x="331.1" y="350.3" font-size="6.8" fill="#222">X</text><text x="335.8" y="345.3" font-size="4" fill="#222">2</text><text x="337.7" y="350.3" font-size="6.8" textLength="46.9" lengthAdjust="spacingAndGlyphs" fill="#222">=58.6, P<0.0001</text><text x="278" y="398.75" font-size="6.4" textLength="45" lengthAdjust="spacingAndGlyphs" fill="#222">Number at risk</text><path d="M278 399.45H323" stroke="#333" stroke-width="0.6"/><text x="290" y="411.65" font-size="6.9" textLength="5.5" lengthAdjust="spacingAndGlyphs" fill="#222">PI</text><text x="296.1" y="406.85" font-size="4.1" style="stroke-width:0.1px" fill="#222">low</text><text x="302.3" y="411.65" font-size="6.8" fill="#222">:</text><text x="313.97" y="411.65" font-size="6.9" textLength="10.16" lengthAdjust="spacingAndGlyphs" fill="#222">105</text><text x="334.21" y="411.65" font-size="6.9" textLength="6.74" lengthAdjust="spacingAndGlyphs" fill="#222">69</text><text x="352.74" y="411.65" font-size="6.9" textLength="6.74" lengthAdjust="spacingAndGlyphs" fill="#222">60</text><text x="371.27" y="411.65" font-size="6.9" textLength="6.74" lengthAdjust="spacingAndGlyphs" fill="#222">47</text><text x="389.8" y="411.65" font-size="6.9" textLength="6.74" lengthAdjust="spacingAndGlyphs" fill="#222">38</text><text x="408.33" y="411.65" font-size="6.9" textLength="6.74" lengthAdjust="spacingAndGlyphs" fill="#222">33</text><text x="426.86" y="411.65" font-size="6.9" textLength="6.74" lengthAdjust="spacingAndGlyphs" fill="#222">18</text><text x="447.1" y="411.65" font-size="6.9" textLength="3.32" lengthAdjust="spacingAndGlyphs" fill="#222">5</text><text x="465.63" y="411.65" font-size="6.9" textLength="3.32" lengthAdjust="spacingAndGlyphs" fill="#222">1</text><text x="484.16" y="411.65" font-size="6.9" textLength="3.32" lengthAdjust="spacingAndGlyphs" fill="#222">0</text><text x="290" y="423.15" font-size="6.9" textLength="5.5" lengthAdjust="spacingAndGlyphs" fill="#222">PI</text><text x="296.1" y="418.35" font-size="4.1" style="stroke-width:0.1px" fill="#222">int</text><text x="300.6" y="423.15" font-size="6.8" fill="#222">:</text><text x="313.97" y="423.15" font-size="6.9" textLength="10.16" lengthAdjust="spacingAndGlyphs" fill="#222">162</text><text x="334.21" y="423.15" font-size="6.9" textLength="6.74" lengthAdjust="spacingAndGlyphs" fill="#222">66</text><text x="352.74" y="423.15" font-size="6.9" textLength="6.74" lengthAdjust="spacingAndGlyphs" fill="#222">55</text><text x="371.27" y="423.15" font-size="6.9" textLength="6.74" lengthAdjust="spacingAndGlyphs" fill="#222">42</text><text x="389.8" y="423.15" font-size="6.9" textLength="6.74" lengthAdjust="spacingAndGlyphs" fill="#222">25</text><text x="408.33" y="423.15" font-size="6.9" textLength="6.74" lengthAdjust="spacingAndGlyphs" fill="#222">17</text><text x="426.86" y="423.15" font-size="6.9" textLength="3.32" lengthAdjust="spacingAndGlyphs" fill="#222">6</text><text x="447.1" y="423.15" font-size="6.9" textLength="3.32" lengthAdjust="spacingAndGlyphs" fill="#222">5</text><text x="465.63" y="423.15" font-size="6.9" textLength="3.32" lengthAdjust="spacingAndGlyphs" fill="#222">1</text><text x="484.16" y="423.15" font-size="6.9" textLength="3.32" lengthAdjust="spacingAndGlyphs" fill="#222">0</text></g>
<g><line x1="67.5" y1="522.75" x2="251.6" y2="522.75" stroke="#333333" stroke-width="1.35" stroke-dasharray="3.7,3.52"/><path d="M66.7 464.2 L67.5 470.4 L68.6 480.8 L69.2 491.2 L70.3 496.9 L70.9 502.7 L72.1 504.4 L72.7 507.3 L75.5 507.9 L76.1 513.1 L77 519.6 L77.3 530 L92.3 530 L92.8 533.6 L229.2 533.6" fill="none" stroke="#64a940" stroke-width="1.45" stroke-linejoin="round"/><path d="M115.3 533.6v-2.9M117.1 533.6v-2.9M129.2 533.6v-2.9M141.3 533.6v-2.9M144.2 533.6v-2.9M149.4 533.6v-2.9M163.3 533.6v-2.9M164.4 533.6v-2.9M166.2 533.6v-2.9M173.1 533.6v-2.9M229.2 533.6v-2.9" stroke="#64a940" stroke-width="0.9"/><path d="M66.7 464.2 L66.7 466.9 L67.2 483.1 L68 494.6 L69.2 503.8 L70.3 509.6 L71.5 515.4 L72.7 526.5 L74.4 534.6 L75.5 540.4 L77.3 543.3 L79.6 544.4 L81.3 546.2 L83.6 547.3 L85.3 549 L92.3 549 L93.4 550.8 L95.2 554.2 L100.3 554.2 L101.5 555.4 L111.9 555.4 L112.5 557.3 L164.4 557.3" fill="none" stroke="#2d528a" stroke-width="1.45" stroke-linejoin="round"/><path d="M80.2 545.04v-2.9M82.5 546.77v-2.9M116.5 557.3v-2.9M123.5 557.3v-2.9M124.6 557.3v-2.9M128.7 557.3v-2.9M129.8 557.3v-2.9M131 557.3v-2.9M139.6 557.3v-2.9M160.4 557.3v-2.9M164.4 557.3v-2.9" stroke="#2d528a" stroke-width="0.9"/><path d="M66.7 464.2 L66.7 467 L66.9 483.1 L67.5 494.6 L68 506.2 L68.6 515.4 L69.8 526.5 L71.5 539.2 L73.2 549.6 L75.5 556.5 L77.8 561.2 L79 565.8 L79.6 567.5 L82.5 567.8 L83 569.2 L91.7 569.2 L92.3 571 L198.1 571" fill="none" stroke="#ad2340" stroke-width="1.45" stroke-linejoin="round"/><path d="M81.9 567.74v-2.9M109.6 571v-2.9M125.2 571v-2.9M129.2 571v-2.9M159.2 571v-2.9M161 571v-2.9M198.1 571v-2.9" stroke="#ad2340" stroke-width="0.9"/><path d="M66.5 460.2V581.9" stroke="#000" stroke-width="1.3"/><path d="M61.9 581.3H255.8" stroke="#000" stroke-width="1.3"/><path d="M61.9 552.02H66.5M61.9 522.75H66.5M61.9 493.47H66.5M61.9 464.2H66.5M66.5 581.3V585.3M85.03 581.3V585.3M103.56 581.3V585.3M122.09 581.3V585.3M140.62 581.3V585.3M159.15 581.3V585.3M177.68 581.3V585.3M196.21 581.3V585.3M214.74 581.3V585.3M233.27 581.3V585.3M251.8 581.3V585.3" stroke="#000" stroke-width="1.2"/><text x="58.6" y="584.05" font-size="7.9" text-anchor="end" textLength="4.3" lengthAdjust="spacingAndGlyphs" fill="#222">0</text><text x="58.6" y="554.77" font-size="7.9" text-anchor="end" textLength="8.2" lengthAdjust="spacingAndGlyphs" fill="#222">25</text><text x="58.6" y="525.5" font-size="7.9" text-anchor="end" textLength="8.2" lengthAdjust="spacingAndGlyphs" fill="#222">50</text><text x="58.6" y="496.22" font-size="7.9" text-anchor="end" textLength="8.2" lengthAdjust="spacingAndGlyphs" fill="#222">75</text><text x="58.6" y="466.95" font-size="7.9" text-anchor="end" textLength="12.5" lengthAdjust="spacingAndGlyphs" fill="#222">100</text><text x="66.5" y="596.7" font-size="7.9" text-anchor="middle" textLength="4.3" lengthAdjust="spacingAndGlyphs" fill="#222">0</text><text x="85.03" y="596.7" font-size="7.9" text-anchor="middle" textLength="4.3" lengthAdjust="spacingAndGlyphs" fill="#222">2</text><text x="103.56" y="596.7" font-size="7.9" text-anchor="middle" textLength="4.3" lengthAdjust="spacingAndGlyphs" fill="#222">4</text><text x="122.09" y="596.7" font-size="7.9" text-anchor="middle" textLength="4.3" lengthAdjust="spacingAndGlyphs" fill="#222">6</text><text x="140.62" y="596.7" font-size="7.9" text-anchor="middle" textLength="4.3" lengthAdjust="spacingAndGlyphs" fill="#222">8</text><text x="159.15" y="596.7" font-size="7.9" text-anchor="middle" textLength="8.0" lengthAdjust="spacingAndGlyphs" fill="#222">10</text><text x="177.68" y="596.7" font-size="7.9" text-anchor="middle" textLength="8.0" lengthAdjust="spacingAndGlyphs" fill="#222">12</text><text x="196.21" y="596.7" font-size="7.9" text-anchor="middle" textLength="8.0" lengthAdjust="spacingAndGlyphs" fill="#222">14</text><text x="214.74" y="596.7" font-size="7.9" text-anchor="middle" textLength="8.0" lengthAdjust="spacingAndGlyphs" fill="#222">16</text><text x="233.27" y="596.7" font-size="7.9" text-anchor="middle" textLength="8.0" lengthAdjust="spacingAndGlyphs" fill="#222">18</text><text x="251.8" y="596.7" font-size="7.9" text-anchor="middle" textLength="8.0" lengthAdjust="spacingAndGlyphs" fill="#222">20</text><text transform="translate(36.3 520.75) rotate(-90)" font-size="12.12" text-anchor="middle" textLength="83.7" lengthAdjust="spacingAndGlyphs" fill="#111">Percent survival</text><text x="87.8" y="613.1" font-size="10.8" textLength="144.7" lengthAdjust="spacingAndGlyphs" fill="#111">Event-free survival time (years)</text><path d="M115.8 465.7H126.5M121.55 465.7v-3" stroke="#64a940" stroke-width="1.3"/><text x="130.5" y="468" font-size="7" textLength="5.6" lengthAdjust="spacingAndGlyphs" fill="#222">PI</text><text x="136.4" y="463.6" font-size="4.0" style="stroke-width:0.1px" fill="#222">low</text><text x="144.1" y="468" font-size="7" textLength="101.5" lengthAdjust="spacingAndGlyphs" fill="#2a2a2a" style="stroke-width:0.1px;stroke:#2a2a2a">with FLT3-ITD (median EFS=1.19y)</text><path d="M115.8 476.6H126.5M121.55 476.6v-3" stroke="#2d528a" stroke-width="1.3"/><text x="130.5" y="478.9" font-size="7" textLength="5.6" lengthAdjust="spacingAndGlyphs" fill="#222">PI</text><text x="136.4" y="474.5" font-size="4.0" style="stroke-width:0.1px" fill="#222">int</text><text x="142.6" y="478.9" font-size="7" textLength="101.5" lengthAdjust="spacingAndGlyphs" fill="#2a2a2a" style="stroke-width:0.1px;stroke:#2a2a2a">with FLT3-ITD (median EFS=0.60y)</text><path d="M115.8 486.7H126.5M121.55 486.7v-3" stroke="#ad2340" stroke-width="1.3"/><text x="130.5" y="489" font-size="7" textLength="5.6" lengthAdjust="spacingAndGlyphs" fill="#222">PI</text><text x="136.4" y="484.6" font-size="4.0" style="stroke-width:0.1px" fill="#222">high</text><text x="145.9" y="489" font-size="7" textLength="100.8" lengthAdjust="spacingAndGlyphs" fill="#2a2a2a" style="stroke-width:0.1px;stroke:#2a2a2a">with FLT3-ITD (median EFS=0.33y)</text><text x="216.4" y="529.4" font-size="7.3" textLength="13.5" lengthAdjust="spacingAndGlyphs" fill="#222">41%</text><text x="152.3" y="552.8" font-size="7.3" textLength="12.9" lengthAdjust="spacingAndGlyphs" fill="#222">21%</text><text x="188.7" y="566.3" font-size="7.3" textLength="9.4" lengthAdjust="spacingAndGlyphs" fill="#222">9%</text><text x="73.7" y="578.3" font-size="6.8" fill="#222">X</text><text x="78.4" y="573.3" font-size="4" fill="#222">2</text><text x="80.3" y="578.3" font-size="6.8" textLength="51.9" lengthAdjust="spacingAndGlyphs" fill="#222">=17.03, P=0.0002</text><text x="27.5" y="625.75" font-size="6.4" textLength="44.25" lengthAdjust="spacingAndGlyphs" fill="#222">Number at risk</text><path d="M27.5 626.45H71.75" stroke="#333" stroke-width="0.6"/><text x="38" y="638" font-size="6.9" textLength="5.5" lengthAdjust="spacingAndGlyphs" fill="#222">PI</text><text x="44.1" y="633.2" font-size="4.1" style="stroke-width:0.1px" fill="#222">low</text><text x="50.3" y="638" font-size="6.8" fill="#222">:</text><text x="63.18" y="638" font-size="6.9" textLength="6.74" lengthAdjust="spacingAndGlyphs" fill="#222">32</text><text x="81.71" y="638" font-size="6.9" textLength="6.74" lengthAdjust="spacingAndGlyphs" fill="#222">15</text><text x="100.24" y="638" font-size="6.9" textLength="6.74" lengthAdjust="spacingAndGlyphs" fill="#222">14</text><text x="118.77" y="638" font-size="6.9" textLength="6.74" lengthAdjust="spacingAndGlyphs" fill="#222">11</text><text x="139.01" y="638" font-size="6.9" textLength="3.32" lengthAdjust="spacingAndGlyphs" fill="#222">9</text><text x="157.54" y="638" font-size="6.9" textLength="3.32" lengthAdjust="spacingAndGlyphs" fill="#222">7</text><text x="176.07" y="638" font-size="6.9" textLength="3.32" lengthAdjust="spacingAndGlyphs" fill="#222">2</text><text x="194.6" y="638" font-size="6.9" textLength="3.32" lengthAdjust="spacingAndGlyphs" fill="#222">1</text><text x="213.13" y="638" font-size="6.9" textLength="3.32" lengthAdjust="spacingAndGlyphs" fill="#222">1</text><text x="231.66" y="638" font-size="6.9" textLength="3.32" lengthAdjust="spacingAndGlyphs" fill="#222">0</text><text x="250.19" y="638" font-size="6.9" textLength="3.32" lengthAdjust="spacingAndGlyphs" fill="#222">0</text><text x="38" y="649.9" font-size="6.9" textLength="5.5" lengthAdjust="spacingAndGlyphs" fill="#222">PI</text><text x="44.1" y="645.1" font-size="4.1" style="stroke-width:0.1px" fill="#222">int</text><text x="48.6" y="649.9" font-size="6.8" fill="#222">:</text><text x="63.18" y="649.9" font-size="6.9" textLength="6.74" lengthAdjust="spacingAndGlyphs" fill="#222">69</text><text x="81.71" y="649.9" font-size="6.9" textLength="6.74" lengthAdjust="spacingAndGlyphs" fill="#222">21</text><text x="100.24" y="649.9" font-size="6.9" textLength="6.74" lengthAdjust="spacingAndGlyphs" fill="#222">16</text><text x="118.77" y="649.9" font-size="6.9" textLength="6.74" lengthAdjust="spacingAndGlyphs" fill="#222">12</text><text x="139.01" y="649.9" font-size="6.9" textLength="3.32" lengthAdjust="spacingAndGlyphs" fill="#222">4</text><text x="157.54" y="649.9" font-size="6.9" textLength="3.32" lengthAdjust="spacingAndGlyphs" fill="#222">4</text><text x="176.07" y="649.9" font-size="6.9" textLength="3.32" lengthAdjust="spacingAndGlyphs" fill="#222">0</text><text x="194.6" y="649.9" font-size="6.9" textLength="3.32" lengthAdjust="spacingAndGlyphs" fill="#222">0</text><text x="213.13" y="649.9" font-size="6.9" textLength="3.32" lengthAdjust="spacingAndGlyphs" fill="#222">0</text><text x="231.66" y="649.9" font-size="6.9" textLength="3.32" lengthAdjust="spacingAndGlyphs" fill="#222">0</text><text x="250.19" y="649.9" font-size="6.9" textLength="3.32" lengthAdjust="spacingAndGlyphs" fill="#222">0</text><text x="38" y="661.8" font-size="6.9" textLength="5.5" lengthAdjust="spacingAndGlyphs" fill="#222">PI</text><text x="44.1" y="657" font-size="4.1" style="stroke-width:0.1px" fill="#222">high</text><text x="52" y="661.8" font-size="6.8" fill="#222">:</text><text x="63.18" y="661.8" font-size="6.9" textLength="6.74" lengthAdjust="spacingAndGlyphs" fill="#222">69</text><text x="81.71" y="661.8" font-size="6.9" textLength="3.32" lengthAdjust="spacingAndGlyphs" fill="#222">8</text><text x="100.24" y="661.8" font-size="6.9" textLength="3.32" lengthAdjust="spacingAndGlyphs" fill="#222">6</text><text x="118.77" y="661.8" font-size="6.9" textLength="3.32" lengthAdjust="spacingAndGlyphs" fill="#222">6</text><text x="139.01" y="661.8" font-size="6.9" textLength="3.32" lengthAdjust="spacingAndGlyphs" fill="#222">4</text><text x="157.54" y="661.8" font-size="6.9" textLength="3.32" lengthAdjust="spacingAndGlyphs" fill="#222">4</text><text x="176.07" y="661.8" font-size="6.9" textLength="3.32" lengthAdjust="spacingAndGlyphs" fill="#222">1</text><text x="194.6" y="661.8" font-size="6.9" textLength="3.32" lengthAdjust="spacingAndGlyphs" fill="#222">1</text><text x="213.13" y="661.8" font-size="6.9" textLength="3.32" lengthAdjust="spacingAndGlyphs" fill="#222">0</text><text x="231.66" y="661.8" font-size="6.9" textLength="3.32" lengthAdjust="spacingAndGlyphs" fill="#222">0</text><text x="250.19" y="661.8" font-size="6.9" textLength="3.32" lengthAdjust="spacingAndGlyphs" fill="#222">0</text></g>
<g><line x1="317.8" y1="522.85" x2="501.6" y2="522.85" stroke="#333333" stroke-width="1.35" stroke-dasharray="3.7,3.5"/><path d="M317 464.4 L318 472.7 L319.2 475 L319.8 478.5 L322.1 478.5 L322.7 486.5 L323.2 496.9 L326.1 496.9 L327.3 500.4 L328.4 504.4 L329 511.9 L337.7 511.9 L338.2 515.4 L340.5 516.5 L341.1 519.6 L349.8 519.6 L350.3 522.5 L359 522.5 L359.6 526.2 L479.7 526.2" fill="none" stroke="#64a940" stroke-width="1.45" stroke-linejoin="round"/><path d="M366.5 526.2v-2.9M368.2 526.2v-2.9M379.2 526.2v-2.9M392.3 526.2v-2.9M394.6 526.2v-2.9M399.2 526.2v-2.9M413.8 526.2v-2.9M414.6 526.2v-2.9M415.4 526.2v-2.9M423.1 526.2v-2.9M451.5 526.2v-2.9M479.7 526.2v-2.9" stroke="#64a940" stroke-width="0.9"/><path d="M317 464.4 L317 475 L318 480.8 L319.8 486.5 L320.9 490 L322.1 494.6 L322.7 500.4 L323.2 508.5 L323.8 520 L325 527.7 L326.7 533.5 L329 538.1 L331.3 541.5 L333 543.8 L338.8 543.8 L340 545.6 L343.4 545.6 L344.6 547.3 L346.3 548.5 L348 550.8 L350.9 550.8 L352.7 552.2 L414.9 552.2" fill="none" stroke="#2d528a" stroke-width="1.45" stroke-linejoin="round"/><path d="M365.9 552.2v-2.9M367.1 552.2v-2.9M373.4 552.2v-2.9M373.8 552.2v-2.9M375.4 552.2v-2.9M379.2 552.2v-2.9M380.8 552.2v-2.9M387.7 552.2v-2.9M389.2 552.2v-2.9M410 552.2v-2.9M411.5 552.2v-2.9M413.8 552.2v-2.9M414.9 552.2v-2.9" stroke="#2d528a" stroke-width="0.9"/><path d="M317 464.4 L317 477.3 L318 485.4 L319.2 492.3 L320.3 498.1 L321.5 506.2 L322.1 511.9 L322.7 525.4 L324.4 535.2 L326.7 541.5 L329 547.3 L332.5 552.5 L334.2 556.5 L335.9 560.6 L341.7 560.6 L342.3 562.9 L361.3 562.9 L361.9 564.6 L369.4 564.6 L370.5 566.4 L448.5 566.4" fill="none" stroke="#ad2340" stroke-width="1.45" stroke-linejoin="round"/><path d="M359.6 562.9v-2.9M368.2 564.6v-2.9M370.8 566.4v-2.9M374.6 566.4v-2.9M379.2 566.4v-2.9M409.2 566.4v-2.9M410.8 566.4v-2.9M448.5 566.4v-2.9" stroke="#ad2340" stroke-width="0.9"/><path d="M316.8 460.4V581.9" stroke="#000" stroke-width="1.3"/><path d="M312.2 581.3H505.8" stroke="#000" stroke-width="1.3"/><path d="M312.2 552.07H316.8M312.2 522.85H316.8M312.2 493.62H316.8M312.2 464.4H316.8M316.8 581.3V585.3M335.3 581.3V585.3M353.8 581.3V585.3M372.3 581.3V585.3M390.8 581.3V585.3M409.3 581.3V585.3M427.8 581.3V585.3M446.3 581.3V585.3M464.8 581.3V585.3M483.3 581.3V585.3M501.8 581.3V585.3" stroke="#000" stroke-width="1.2"/><text x="308.9" y="584.05" font-size="7.9" text-anchor="end" textLength="4.3" lengthAdjust="spacingAndGlyphs" fill="#222">0</text><text x="308.9" y="554.82" font-size="7.9" text-anchor="end" textLength="8.2" lengthAdjust="spacingAndGlyphs" fill="#222">25</text><text x="308.9" y="525.6" font-size="7.9" text-anchor="end" textLength="8.2" lengthAdjust="spacingAndGlyphs" fill="#222">50</text><text x="308.9" y="496.38" font-size="7.9" text-anchor="end" textLength="8.2" lengthAdjust="spacingAndGlyphs" fill="#222">75</text><text x="308.9" y="467.15" font-size="7.9" text-anchor="end" textLength="12.5" lengthAdjust="spacingAndGlyphs" fill="#222">100</text><text x="316.8" y="596.7" font-size="7.9" text-anchor="middle" textLength="4.3" lengthAdjust="spacingAndGlyphs" fill="#222">0</text><text x="335.3" y="596.7" font-size="7.9" text-anchor="middle" textLength="4.3" lengthAdjust="spacingAndGlyphs" fill="#222">2</text><text x="353.8" y="596.7" font-size="7.9" text-anchor="middle" textLength="4.3" lengthAdjust="spacingAndGlyphs" fill="#222">4</text><text x="372.3" y="596.7" font-size="7.9" text-anchor="middle" textLength="4.3" lengthAdjust="spacingAndGlyphs" fill="#222">6</text><text x="390.8" y="596.7" font-size="7.9" text-anchor="middle" textLength="4.3" lengthAdjust="spacingAndGlyphs" fill="#222">8</text><text x="409.3" y="596.7" font-size="7.9" text-anchor="middle" textLength="8.0" lengthAdjust="spacingAndGlyphs" fill="#222">10</text><text x="427.8" y="596.7" font-size="7.9" text-anchor="middle" textLength="8.0" lengthAdjust="spacingAndGlyphs" fill="#222">12</text><text x="446.3" y="596.7" font-size="7.9" text-anchor="middle" textLength="8.0" lengthAdjust="spacingAndGlyphs" fill="#222">14</text><text x="464.8" y="596.7" font-size="7.9" text-anchor="middle" textLength="8.0" lengthAdjust="spacingAndGlyphs" fill="#222">16</text><text x="483.3" y="596.7" font-size="7.9" text-anchor="middle" textLength="8.0" lengthAdjust="spacingAndGlyphs" fill="#222">18</text><text x="501.8" y="596.7" font-size="7.9" text-anchor="middle" textLength="8.0" lengthAdjust="spacingAndGlyphs" fill="#222">20</text><text transform="translate(289.2 520.95) rotate(-90)" font-size="12.18" text-anchor="middle" textLength="84.1" lengthAdjust="spacingAndGlyphs" fill="#111">Percent survival</text><text x="345.9" y="613.1" font-size="10.8" textLength="130.8" lengthAdjust="spacingAndGlyphs" fill="#111">Overall survival time (years)</text><path d="M363.8 465.5H374.2M369.4 465.5v-3" stroke="#64a940" stroke-width="1.3"/><text x="379.8" y="467.8" font-size="7" textLength="5.6" lengthAdjust="spacingAndGlyphs" fill="#222">PI</text><text x="385.7" y="463.4" font-size="4.0" style="stroke-width:0.1px" fill="#222">low</text><text x="393.4" y="467.8" font-size="7" textLength="99.8" lengthAdjust="spacingAndGlyphs" fill="#2a2a2a" style="stroke-width:0.1px;stroke:#2a2a2a">with FLT3-ITD (median OS=4.16y)</text><path d="M363.8 476.6H374.2M369.4 476.6v-3" stroke="#2d528a" stroke-width="1.3"/><text x="379.8" y="478.9" font-size="7" textLength="5.6" lengthAdjust="spacingAndGlyphs" fill="#222">PI</text><text x="385.7" y="474.5" font-size="4.0" style="stroke-width:0.1px" fill="#222">int</text><text x="391.9" y="478.9" font-size="7" textLength="99.5" lengthAdjust="spacingAndGlyphs" fill="#2a2a2a" style="stroke-width:0.1px;stroke:#2a2a2a">with FLT3-ITD (median OS=0.76y)</text><path d="M363.8 487H374.2M369.4 487v-3" stroke="#ad2340" stroke-width="1.3"/><text x="379.8" y="489.3" font-size="7" textLength="5.6" lengthAdjust="spacingAndGlyphs" fill="#222">PI</text><text x="385.7" y="484.9" font-size="4.0" style="stroke-width:0.1px" fill="#222">high</text><text x="395.2" y="489.3" font-size="7" textLength="99.4" lengthAdjust="spacingAndGlyphs" fill="#2a2a2a" style="stroke-width:0.1px;stroke:#2a2a2a">with FLT3-ITD (median OS=0.64y)</text><text x="467.5" y="520" font-size="7.3" textLength="12.9" lengthAdjust="spacingAndGlyphs" fill="#222">47%</text><text x="402.9" y="547.7" font-size="7.3" textLength="12.9" lengthAdjust="spacingAndGlyphs" fill="#222">25%</text><text x="436" y="561.7" font-size="7.3" textLength="12.7" lengthAdjust="spacingAndGlyphs" fill="#222">13%</text><text x="324.5" y="576.6" font-size="6.8" fill="#222">X</text><text x="329.2" y="571.6" font-size="4" fill="#222">2</text><text x="331.1" y="576.6" font-size="6.8" textLength="48" lengthAdjust="spacingAndGlyphs" fill="#222">=13.84, P=0.001</text><text x="278.75" y="624.25" font-size="6.4" textLength="43.75" lengthAdjust="spacingAndGlyphs" fill="#222">Number at risk</text><path d="M278.75 624.95H322.5" stroke="#333" stroke-width="0.6"/><text x="286.25" y="637.8" font-size="6.9" textLength="5.5" lengthAdjust="spacingAndGlyphs" fill="#222">PI</text><text x="292.35" y="633" font-size="4.1" style="stroke-width:0.1px" fill="#222">low</text><text x="298.55" y="637.8" font-size="6.8" fill="#222">:</text><text x="312.83" y="637.8" font-size="6.9" textLength="6.74" lengthAdjust="spacingAndGlyphs" fill="#222">32</text><text x="331.33" y="637.8" font-size="6.9" textLength="6.74" lengthAdjust="spacingAndGlyphs" fill="#222">20</text><text x="349.83" y="637.8" font-size="6.9" textLength="6.74" lengthAdjust="spacingAndGlyphs" fill="#222">17</text><text x="368.33" y="637.8" font-size="6.9" textLength="6.74" lengthAdjust="spacingAndGlyphs" fill="#222">13</text><text x="386.83" y="637.8" font-size="6.9" textLength="6.74" lengthAdjust="spacingAndGlyphs" fill="#222">12</text><text x="407.04" y="637.8" font-size="6.9" textLength="3.32" lengthAdjust="spacingAndGlyphs" fill="#222">9</text><text x="425.54" y="637.8" font-size="6.9" textLength="3.32" lengthAdjust="spacingAndGlyphs" fill="#222">4</text><text x="444.04" y="637.8" font-size="6.9" textLength="3.32" lengthAdjust="spacingAndGlyphs" fill="#222">2</text><text x="462.54" y="637.8" font-size="6.9" textLength="3.32" lengthAdjust="spacingAndGlyphs" fill="#222">1</text><text x="481.04" y="637.8" font-size="6.9" textLength="3.32" lengthAdjust="spacingAndGlyphs" fill="#222">0</text><text x="499.54" y="637.8" font-size="6.9" textLength="3.32" lengthAdjust="spacingAndGlyphs" fill="#222">0</text><text x="286.25" y="649.9" font-size="6.9" textLength="5.5" lengthAdjust="spacingAndGlyphs" fill="#222">PI</text><text x="292.35" y="645.1" font-size="4.1" style="stroke-width:0.1px" fill="#222">int</text><text x="296.85" y="649.9" font-size="6.8" fill="#222">:</text><text x="312.83" y="649.9" font-size="6.9" textLength="6.74" lengthAdjust="spacingAndGlyphs" fill="#222">69</text><text x="331.33" y="649.9" font-size="6.9" textLength="6.74" lengthAdjust="spacingAndGlyphs" fill="#222">23</text><text x="349.83" y="649.9" font-size="6.9" textLength="6.74" lengthAdjust="spacingAndGlyphs" fill="#222">18</text><text x="368.33" y="649.9" font-size="6.9" textLength="6.74" lengthAdjust="spacingAndGlyphs" fill="#222">14</text><text x="386.83" y="649.9" font-size="6.9" textLength="3.32" lengthAdjust="spacingAndGlyphs" fill="#222">5</text><text x="407.04" y="649.9" font-size="6.9" textLength="3.32" lengthAdjust="spacingAndGlyphs" fill="#222">5</text><text x="425.54" y="649.9" font-size="6.9" textLength="3.32" lengthAdjust="spacingAndGlyphs" fill="#222">0</text><text x="444.04" y="649.9" font-size="6.9" textLength="3.32" lengthAdjust="spacingAndGlyphs" fill="#222">0</text><text x="462.54" y="649.9" font-size="6.9" textLength="3.32" lengthAdjust="spacingAndGlyphs" fill="#222">0</text><text x="481.04" y="649.9" font-size="6.9" textLength="3.32" lengthAdjust="spacingAndGlyphs" fill="#222">0</text><text x="499.54" y="649.9" font-size="6.9" textLength="3.32" lengthAdjust="spacingAndGlyphs" fill="#222">0</text><text x="286.25" y="661.8" font-size="6.9" textLength="5.5" lengthAdjust="spacingAndGlyphs" fill="#222">PI</text><text x="292.35" y="657" font-size="4.1" style="stroke-width:0.1px" fill="#222">high</text><text x="300.25" y="661.8" font-size="6.8" fill="#222">:</text><text x="312.83" y="661.8" font-size="6.9" textLength="6.74" lengthAdjust="spacingAndGlyphs" fill="#222">69</text><text x="331.33" y="661.8" font-size="6.9" textLength="6.74" lengthAdjust="spacingAndGlyphs" fill="#222">14</text><text x="349.83" y="661.8" font-size="6.9" textLength="6.74" lengthAdjust="spacingAndGlyphs" fill="#222">12</text><text x="368.33" y="661.8" font-size="6.9" textLength="3.32" lengthAdjust="spacingAndGlyphs" fill="#222">7</text><text x="386.83" y="661.8" font-size="6.9" textLength="3.32" lengthAdjust="spacingAndGlyphs" fill="#222">4</text><text x="407.04" y="661.8" font-size="6.9" textLength="3.32" lengthAdjust="spacingAndGlyphs" fill="#222">4</text><text x="425.54" y="661.8" font-size="6.9" textLength="3.32" lengthAdjust="spacingAndGlyphs" fill="#222">1</text><text x="444.04" y="661.8" font-size="6.9" textLength="3.32" lengthAdjust="spacingAndGlyphs" fill="#222">0</text><text x="462.54" y="661.8" font-size="6.9" textLength="3.32" lengthAdjust="spacingAndGlyphs" fill="#222">0</text><text x="481.04" y="661.8" font-size="6.9" textLength="3.32" lengthAdjust="spacingAndGlyphs" fill="#222">0</text><text x="499.54" y="661.8" font-size="6.9" textLength="3.32" lengthAdjust="spacingAndGlyphs" fill="#222">0</text></g>
<g><line x1="67.5" y1="742.15" x2="252.1" y2="742.15" stroke="#333333" stroke-width="1.35" stroke-dasharray="3.7,3.54"/><path d="M66.7 683.5 L68 688.1 L69.8 692.7 L70.9 697.3 L72.7 704.2 L74.4 711.2 L75.5 713.5 L76.7 718.1 L77.8 723.3 L79.6 724.4 L81.9 726.7 L84.8 727.3 L87.1 727.3 L89.4 729.6 L91.1 732.5 L95.2 733.1 L97.5 735 L102.1 736.2 L105.5 737.3 L107.8 739 L111.3 739.6 L114.8 740.2 L118.2 740.8 L120.5 741.3 L124.6 741.7 L126.3 743.5 L150 743.5 L150.6 745.2 L166.2 745.2 L168.5 746.9 L179 746.9 L179.6 749.8 L232.7 749.8" fill="none" stroke="#64a940" stroke-width="1.45" stroke-linejoin="round"/><path d="M94 732.92v-2.9M127.5 743.5v-2.9M130.4 743.5v-2.9M133.8 743.5v-2.9M136.7 743.5v-2.9M140.2 743.5v-2.9M143.7 743.5v-2.9M146.5 743.5v-2.9M153.5 745.2v-2.9M158.1 745.2v-2.9M162.7 745.2v-2.9M167.3 746.01v-2.9M170.8 746.9v-2.9M173.1 746.9v-2.9M175.4 746.9v-2.9M177.7 746.9v-2.9M176.7 746.9v-2.9M177.9 746.9v-2.9M180.2 749.8v-2.9M181.9 749.8v-2.9M188.8 749.8v-2.9M191.2 749.8v-2.9M192.9 749.8v-2.9M197.5 749.8v-2.9M199.8 749.8v-2.9M216.5 749.8v-2.9M232.7 749.8v-2.9M84 727.13v-2.9M86.8 727.3v-2.9M89.6 729.94v-2.9M92.4 732.69v-2.9M95.2 733.1v-2.9M98 735.13v-2.9M100.8 735.86v-2.9M103.6 736.69v-2.9M106.4 737.97v-2.9M109.2 739.24v-2.9M112 739.72v-2.9M114.8 740.2v-2.9M117.6 740.69v-2.9M120.4 741.28v-2.9M123.2 741.56v-2.9" stroke="#64a940" stroke-width="0.9"/><path d="M66.7 683.5 L66.7 688.1 L67.5 695 L68.6 703.1 L69.8 708.3 L70.9 711.2 L72.1 715.8 L73 722.7 L73.8 729.6 L75 737.7 L75.5 741.9 L76.1 747.7 L77.8 752.3 L80.2 755.8 L82.5 758.1 L84.8 760.4 L88.2 761.5 L91.7 763.3 L96.3 763.8 L98.6 764.4 L102.1 765.6 L105 766.2 L124 766.6 L125.2 768.3 L128.7 768.8 L143.1 768.8 L143.7 770.6 L220.6 770.6" fill="none" stroke="#2d528a" stroke-width="1.45" stroke-linejoin="round"/><path d="M83.6 759.2v-2.9M85.9 760.76v-2.9M88.2 761.5v-2.9M90 762.43v-2.9M91.7 763.3v-2.9M97.5 764.11v-2.9M99.2 764.61v-2.9M102.1 765.6v-2.9M103.8 765.95v-2.9M106.1 766.22v-2.9M107.8 766.26v-2.9M109.6 766.3v-2.9M113.6 766.38v-2.9M114.8 766.41v-2.9M120.5 766.53v-2.9M122.9 766.58v-2.9M124 766.6v-2.9M129.8 768.8v-2.9M131 768.8v-2.9M132.7 768.8v-2.9M134.4 768.8v-2.9M137.3 768.8v-2.9M140.2 768.8v-2.9M143.1 768.8v-2.9M148.8 770.6v-2.9M152.3 770.6v-2.9M159.8 770.6v-2.9M161.5 770.6v-2.9M165.6 770.6v-2.9M167.3 770.6v-2.9M169.6 770.6v-2.9M173.1 770.6v-2.9M199.2 770.6v-2.9M213.7 770.6v-2.9M220.6 770.6v-2.9M82 757.6v-2.9M85 760.46v-2.9M88 761.44v-2.9M91 762.94v-2.9M94 763.55v-2.9M97 763.98v-2.9M100 764.88v-2.9M103 765.79v-2.9M106 766.22v-2.9M109 766.28v-2.9M112 766.35v-2.9M115 766.41v-2.9M118 766.47v-2.9M121 766.54v-2.9" stroke="#2d528a" stroke-width="0.9"/><path d="M66.7 683.5 L66.7 695 L67.2 703.1 L68 711.2 L68.8 720.4 L69.8 730.8 L70.7 740 L71.5 746.5 L73.2 758.1 L75 767.3 L76.7 770.8 L78.4 774.2 L79.6 777.7 L82.5 778.8 L84.8 780 L87.1 782.3 L88.8 784.6 L90.5 785.8 L107.8 785.8 L108.4 786.9 L113.6 786.9 L114.8 787.6 L171.7 787.6" fill="none" stroke="#ad2340" stroke-width="1.45" stroke-linejoin="round"/><path d="M85.3 780.5v-2.9M86.5 781.7v-2.9M88.2 783.79v-2.9M107.8 785.8v-2.9M114.2 787.25v-2.9M124.6 787.6v-2.9M131 787.6v-2.9M137.3 787.6v-2.9M137.9 787.6v-2.9M152.3 787.6v-2.9M162.7 787.6v-2.9M170.8 787.6v-2.9M171.7 787.6v-2.9" stroke="#ad2340" stroke-width="0.9"/><path d="M66.5 679.5V801.4" stroke="#000" stroke-width="1.3"/><path d="M61.9 800.8H256.3" stroke="#000" stroke-width="1.3"/><path d="M61.9 771.47H66.5M61.9 742.15H66.5M61.9 712.83H66.5M61.9 683.5H66.5M66.5 800.8V804.8M85.08 800.8V804.8M103.66 800.8V804.8M122.24 800.8V804.8M140.82 800.8V804.8M159.4 800.8V804.8M177.98 800.8V804.8M196.56 800.8V804.8M215.14 800.8V804.8M233.72 800.8V804.8M252.3 800.8V804.8" stroke="#000" stroke-width="1.2"/><text x="58.6" y="803.55" font-size="7.9" text-anchor="end" textLength="4.3" lengthAdjust="spacingAndGlyphs" fill="#222">0</text><text x="58.6" y="774.22" font-size="7.9" text-anchor="end" textLength="8.2" lengthAdjust="spacingAndGlyphs" fill="#222">25</text><text x="58.6" y="744.9" font-size="7.9" text-anchor="end" textLength="8.2" lengthAdjust="spacingAndGlyphs" fill="#222">50</text><text x="58.6" y="715.58" font-size="7.9" text-anchor="end" textLength="8.2" lengthAdjust="spacingAndGlyphs" fill="#222">75</text><text x="58.6" y="686.25" font-size="7.9" text-anchor="end" textLength="12.5" lengthAdjust="spacingAndGlyphs" fill="#222">100</text><text x="66.5" y="816.2" font-size="7.9" text-anchor="middle" textLength="4.3" lengthAdjust="spacingAndGlyphs" fill="#222">0</text><text x="85.08" y="816.2" font-size="7.9" text-anchor="middle" textLength="4.3" lengthAdjust="spacingAndGlyphs" fill="#222">2</text><text x="103.66" y="816.2" font-size="7.9" text-anchor="middle" textLength="4.3" lengthAdjust="spacingAndGlyphs" fill="#222">4</text><text x="122.24" y="816.2" font-size="7.9" text-anchor="middle" textLength="4.3" lengthAdjust="spacingAndGlyphs" fill="#222">6</text><text x="140.82" y="816.2" font-size="7.9" text-anchor="middle" textLength="4.3" lengthAdjust="spacingAndGlyphs" fill="#222">8</text><text x="159.4" y="816.2" font-size="7.9" text-anchor="middle" textLength="8.0" lengthAdjust="spacingAndGlyphs" fill="#222">10</text><text x="177.98" y="816.2" font-size="7.9" text-anchor="middle" textLength="8.0" lengthAdjust="spacingAndGlyphs" fill="#222">12</text><text x="196.56" y="816.2" font-size="7.9" text-anchor="middle" textLength="8.0" lengthAdjust="spacingAndGlyphs" fill="#222">14</text><text x="215.14" y="816.2" font-size="7.9" text-anchor="middle" textLength="8.0" lengthAdjust="spacingAndGlyphs" fill="#222">16</text><text x="233.72" y="816.2" font-size="7.9" text-anchor="middle" textLength="8.0" lengthAdjust="spacingAndGlyphs" fill="#222">18</text><text x="252.3" y="816.2" font-size="7.9" text-anchor="middle" textLength="8.0" lengthAdjust="spacingAndGlyphs" fill="#222">20</text><text transform="translate(36 739.85) rotate(-90)" font-size="12.18" text-anchor="middle" textLength="84.1" lengthAdjust="spacingAndGlyphs" fill="#111">Percent survival</text><text x="87.8" y="832.6" font-size="10.8" textLength="144.7" lengthAdjust="spacingAndGlyphs" fill="#111">Event-free survival time (years)</text><path d="M115.8 684H126.7M121.65 684v-3" stroke="#64a940" stroke-width="1.3"/><text x="130.5" y="686.3" font-size="7" textLength="5.6" lengthAdjust="spacingAndGlyphs" fill="#222">PI</text><text x="136.4" y="681.9" font-size="4.0" style="stroke-width:0.1px" fill="#222">low</text><text x="144.1" y="686.3" font-size="7" textLength="96" lengthAdjust="spacingAndGlyphs" fill="#2a2a2a" style="stroke-width:0.1px;stroke:#2a2a2a">with wt-FLT3 (median EFS=6.1y)</text><path d="M115.8 695.2H126.7M121.65 695.2v-3" stroke="#2d528a" stroke-width="1.3"/><text x="130.5" y="697.5" font-size="7" textLength="5.6" lengthAdjust="spacingAndGlyphs" fill="#222">PI</text><text x="136.4" y="693.1" font-size="4.0" style="stroke-width:0.1px" fill="#222">int</text><text x="142.6" y="697.5" font-size="7" textLength="98.9" lengthAdjust="spacingAndGlyphs" fill="#2a2a2a" style="stroke-width:0.1px;stroke:#2a2a2a">with wt-FLT3 (median EFS=0.99y)</text><path d="M115.8 705.8H126.7M121.65 705.8v-3" stroke="#ad2340" stroke-width="1.3"/><text x="130.5" y="708.1" font-size="7" textLength="5.6" lengthAdjust="spacingAndGlyphs" fill="#222">PI</text><text x="136.4" y="703.7" font-size="4.0" style="stroke-width:0.1px" fill="#222">high</text><text x="145.9" y="708.1" font-size="7" textLength="98.5" lengthAdjust="spacingAndGlyphs" fill="#2a2a2a" style="stroke-width:0.1px;stroke:#2a2a2a">with wt-FLT3 (median EFS=0.46y)</text><text x="219.4" y="740.2" font-size="7.3" textLength="13.5" lengthAdjust="spacingAndGlyphs" fill="#222">43%</text><text x="208.1" y="765" font-size="7.3" textLength="12.6" lengthAdjust="spacingAndGlyphs" fill="#222">26%</text><text x="159.1" y="783.3" font-size="7.3" textLength="12.6" lengthAdjust="spacingAndGlyphs" fill="#222">11%</text><text x="74" y="796.5" font-size="6.8" fill="#222">X</text><text x="78.7" y="791.5" font-size="4" fill="#222">2</text><text x="80.6" y="796.5" font-size="6.8" textLength="50.8" lengthAdjust="spacingAndGlyphs" fill="#222">=63.71, P<0.0001</text><text x="26.25" y="845.5" font-size="6.4" textLength="43" lengthAdjust="spacingAndGlyphs" fill="#222">Number at risk</text><path d="M26.25 846.2H69.25" stroke="#333" stroke-width="0.6"/><text x="35" y="857.5" font-size="6.9" textLength="5.5" lengthAdjust="spacingAndGlyphs" fill="#222">PI</text><text x="41.1" y="852.7" font-size="4.1" style="stroke-width:0.1px" fill="#222">low</text><text x="47.3" y="857.5" font-size="6.8" fill="#222">:</text><text x="61.17" y="857.5" font-size="6.9" textLength="10.16" lengthAdjust="spacingAndGlyphs" fill="#222">121</text><text x="81.46" y="857.5" font-size="6.9" textLength="6.74" lengthAdjust="spacingAndGlyphs" fill="#222">74</text><text x="100.04" y="857.5" font-size="6.9" textLength="6.74" lengthAdjust="spacingAndGlyphs" fill="#222">62</text><text x="118.62" y="857.5" font-size="6.9" textLength="6.74" lengthAdjust="spacingAndGlyphs" fill="#222">52</text><text x="137.2" y="857.5" font-size="6.9" textLength="6.74" lengthAdjust="spacingAndGlyphs" fill="#222">40</text><text x="155.78" y="857.5" font-size="6.9" textLength="6.74" lengthAdjust="spacingAndGlyphs" fill="#222">37</text><text x="174.36" y="857.5" font-size="6.9" textLength="6.74" lengthAdjust="spacingAndGlyphs" fill="#222">22</text><text x="194.65" y="857.5" font-size="6.9" textLength="3.32" lengthAdjust="spacingAndGlyphs" fill="#222">6</text><text x="213.23" y="857.5" font-size="6.9" textLength="3.32" lengthAdjust="spacingAndGlyphs" fill="#222">3</text><text x="231.81" y="857.5" font-size="6.9" textLength="3.32" lengthAdjust="spacingAndGlyphs" fill="#222">1</text><text x="250.39" y="857.5" font-size="6.9" textLength="3.32" lengthAdjust="spacingAndGlyphs" fill="#222">0</text><text x="35" y="869.5" font-size="6.9" textLength="5.5" lengthAdjust="spacingAndGlyphs" fill="#222">PI</text><text x="41.1" y="864.7" font-size="4.1" style="stroke-width:0.1px" fill="#222">int</text><text x="45.6" y="869.5" font-size="6.8" fill="#222">:</text><text x="61.17" y="869.5" font-size="6.9" textLength="10.16" lengthAdjust="spacingAndGlyphs" fill="#222">191</text><text x="81.46" y="869.5" font-size="6.9" textLength="6.74" lengthAdjust="spacingAndGlyphs" fill="#222">66</text><text x="100.04" y="869.5" font-size="6.9" textLength="6.74" lengthAdjust="spacingAndGlyphs" fill="#222">54</text><text x="118.62" y="869.5" font-size="6.9" textLength="6.74" lengthAdjust="spacingAndGlyphs" fill="#222">39</text><text x="137.2" y="869.5" font-size="6.9" textLength="6.74" lengthAdjust="spacingAndGlyphs" fill="#222">22</text><text x="155.78" y="869.5" font-size="6.9" textLength="6.74" lengthAdjust="spacingAndGlyphs" fill="#222">15</text><text x="174.36" y="869.5" font-size="6.9" textLength="3.32" lengthAdjust="spacingAndGlyphs" fill="#222">4</text><text x="194.65" y="869.5" font-size="6.9" textLength="3.32" lengthAdjust="spacingAndGlyphs" fill="#222">4</text><text x="213.23" y="869.5" font-size="6.9" textLength="3.32" lengthAdjust="spacingAndGlyphs" fill="#222">1</text><text x="231.81" y="869.5" font-size="6.9" textLength="3.32" lengthAdjust="spacingAndGlyphs" fill="#222">0</text><text x="250.39" y="869.5" font-size="6.9" textLength="3.32" lengthAdjust="spacingAndGlyphs" fill="#222">0</text><text x="35" y="881.6" font-size="6.9" textLength="5.5" lengthAdjust="spacingAndGlyphs" fill="#222">PI</text><text x="41.1" y="876.8" font-size="4.1" style="stroke-width:0.1px" fill="#222">high</text><text x="49" y="881.6" font-size="6.8" fill="#222">:</text><text x="61.17" y="881.6" font-size="6.9" textLength="10.16" lengthAdjust="spacingAndGlyphs" fill="#222">107</text><text x="81.46" y="881.6" font-size="6.9" textLength="6.74" lengthAdjust="spacingAndGlyphs" fill="#222">20</text><text x="100.04" y="881.6" font-size="6.9" textLength="6.74" lengthAdjust="spacingAndGlyphs" fill="#222">14</text><text x="118.62" y="881.6" font-size="6.9" textLength="6.74" lengthAdjust="spacingAndGlyphs" fill="#222">10</text><text x="137.2" y="881.6" font-size="6.9" textLength="3.32" lengthAdjust="spacingAndGlyphs" fill="#222">4</text><text x="155.78" y="881.6" font-size="6.9" textLength="3.32" lengthAdjust="spacingAndGlyphs" fill="#222">3</text><text x="174.36" y="881.6" font-size="6.9" textLength="3.32" lengthAdjust="spacingAndGlyphs" fill="#222">1</text><text x="194.65" y="881.6" font-size="6.9" textLength="3.32" lengthAdjust="spacingAndGlyphs" fill="#222">1</text><text x="213.23" y="881.6" font-size="6.9" textLength="3.32" lengthAdjust="spacingAndGlyphs" fill="#222">0</text><text x="231.81" y="881.6" font-size="6.9" textLength="3.32" lengthAdjust="spacingAndGlyphs" fill="#222">0</text><text x="250.39" y="881.6" font-size="6.9" textLength="3.32" lengthAdjust="spacingAndGlyphs" fill="#222">0</text></g>
<g><line x1="318.5" y1="742.15" x2="502.6" y2="742.15" stroke="#333333" stroke-width="1.35" stroke-dasharray="3.7,3.52"/><path d="M317.7 683.5 L317.9 687.5 L320.2 689.2 L321.9 692.7 L323.7 694.4 L325.4 697.3 L326.5 700.8 L327.7 704.8 L329.4 707.1 L331.2 708.8 L332.3 712.3 L334 714.6 L336.3 716.9 L338.7 718.7 L341 720.4 L343.3 722.1 L345.6 723.3 L349.6 723.8 L354.8 725 L357.7 725.6 L360 726.2 L361.2 727.3 L363.5 727.9 L368.1 728.5 L370.4 729.4 L375.2 730.6 L377.5 732.9 L401.2 732.9 L401.7 734.8 L419 734.8 L419.6 736.6 L430 736.6 L430.8 740.2 L483.4 740.2" fill="none" stroke="#64a940" stroke-width="1.45" stroke-linejoin="round"/><path d="M378.5 732.9v-2.9M380.2 732.9v-2.9M381.9 732.9v-2.9M384.2 732.9v-2.9M386.5 732.9v-2.9M390 732.9v-2.9M394.6 732.9v-2.9M399.2 732.9v-2.9M405.5 734.8v-2.9M414.8 734.8v-2.9M417 734.8v-2.9M418.1 734.8v-2.9M423.8 736.6v-2.9M425.5 736.6v-2.9M427.8 736.6v-2.9M428.6 736.6v-2.9M432.2 740.2v-2.9M435.8 740.2v-2.9M438.7 740.2v-2.9M440.9 740.2v-2.9M442.3 740.2v-2.9M444.5 740.2v-2.9M448.1 740.2v-2.9M451.7 740.2v-2.9M467.5 740.2v-2.9M483.4 740.2v-2.9M343 721.88v-2.9M345.6 723.3v-2.9M348.2 723.62v-2.9M350.8 724.08v-2.9M353.4 724.68v-2.9M356 725.25v-2.9M358.6 725.83v-2.9M361.2 727.3v-2.9M363.8 727.94v-2.9M366.4 728.28v-2.9M369 728.85v-2.9M371.6 729.7v-2.9M374.2 730.35v-2.9M376.8 732.2v-2.9M379.4 732.9v-2.9M382 732.9v-2.9M384.6 732.9v-2.9M387.2 732.9v-2.9M389.8 732.9v-2.9M392.4 732.9v-2.9M395 732.9v-2.9M397.6 732.9v-2.9" stroke="#64a940" stroke-width="0.9"/><path d="M317.7 683.5 L317.7 688.7 L318.5 692.7 L320.2 697.3 L321.9 701.9 L323.7 706.5 L324.8 710 L325.4 714.6 L326.5 721.5 L327.7 727.3 L329.4 729.6 L331.2 734.2 L332.3 740.8 L333.5 744.2 L335.8 747.1 L339.2 748.8 L342.7 750.6 L346.2 751.7 L349.6 752.3 L353.1 753.5 L356 754 L359.4 755.2 L364.6 755.8 L368.1 756.9 L371.5 757.5 L382.7 757.7 L383.3 760 L393.7 760 L394.8 762 L490.6 762" fill="none" stroke="#2d528a" stroke-width="1.45" stroke-linejoin="round"/><path d="M373 757.53v-2.9M375 757.56v-2.9M377 757.6v-2.9M382 757.69v-2.9M385.5 760v-2.9M388.5 760v-2.9M391 760v-2.9M397 762v-2.9M400 762v-2.9M402.5 762v-2.9M405 762v-2.9M407.5 762v-2.9M410 762v-2.9M412 762v-2.9M414 762v-2.9M416 762v-2.9M418 762v-2.9M420.5 762v-2.9M423 762v-2.9M443.8 762v-2.9M447.4 762v-2.9M450.2 762v-2.9M464.7 762v-2.9M471.2 762v-2.9M490.6 762v-2.9M338 748.2v-2.9M341.1 749.78v-2.9M344.2 751.07v-2.9M347.3 751.89v-2.9M350.4 752.57v-2.9M353.5 753.57v-2.9M356.6 754.21v-2.9M359.7 755.23v-2.9M362.8 755.59v-2.9M365.9 756.21v-2.9M369 757.06v-2.9" stroke="#2d528a" stroke-width="0.9"/><path d="M317.7 683.5 L317.7 692.7 L318.5 700.8 L319.6 708.8 L320.8 715.8 L321.9 721.5 L323.1 729.6 L324.2 735.4 L325.4 743.1 L327.1 750 L328.8 756.9 L330.6 765 L333.5 769 L337 769.6 L337.5 771.9 L342.7 773.1 L347.3 773.7 L349 776 L356.5 777.1 L358.8 778.8 L365.8 778.8 L366.9 780.6 L422.7 780.6" fill="none" stroke="#ad2340" stroke-width="1.45" stroke-linejoin="round"/><path d="M333.5 769v-2.9M342.7 773.1v-2.9M346 773.53v-2.9M347.5 773.97v-2.9M367 780.6v-2.9M369 780.6v-2.9M371 780.6v-2.9M371.2 780.6v-2.9M373 780.6v-2.9M375 780.6v-2.9M377.2 780.6v-2.9M379.2 780.6v-2.9M381.5 780.6v-2.9M387.3 780.6v-2.9M388.5 780.6v-2.9M400.6 780.6v-2.9M402.9 780.6v-2.9M413.3 780.6v-2.9M422.5 780.6v-2.9M336 769.43v-2.9M339.4 772.34v-2.9M342.8 773.11v-2.9M346.2 773.56v-2.9M349.6 776.09v-2.9M353 776.59v-2.9M356.4 777.09v-2.9M359.8 778.8v-2.9M363.2 778.8v-2.9" stroke="#ad2340" stroke-width="0.9"/><path d="M317.5 679.5V801.4" stroke="#000" stroke-width="1.3"/><path d="M312.9 800.8H506.8" stroke="#000" stroke-width="1.3"/><path d="M312.9 771.47H317.5M312.9 742.15H317.5M312.9 712.83H317.5M312.9 683.5H317.5M317.5 800.8V804.8M336.03 800.8V804.8M354.56 800.8V804.8M373.09 800.8V804.8M391.62 800.8V804.8M410.15 800.8V804.8M428.68 800.8V804.8M447.21 800.8V804.8M465.74 800.8V804.8M484.27 800.8V804.8M502.8 800.8V804.8" stroke="#000" stroke-width="1.2"/><text x="309.6" y="803.55" font-size="7.9" text-anchor="end" textLength="4.3" lengthAdjust="spacingAndGlyphs" fill="#222">0</text><text x="309.6" y="774.22" font-size="7.9" text-anchor="end" textLength="8.2" lengthAdjust="spacingAndGlyphs" fill="#222">25</text><text x="309.6" y="744.9" font-size="7.9" text-anchor="end" textLength="8.2" lengthAdjust="spacingAndGlyphs" fill="#222">50</text><text x="309.6" y="715.58" font-size="7.9" text-anchor="end" textLength="8.2" lengthAdjust="spacingAndGlyphs" fill="#222">75</text><text x="309.6" y="686.25" font-size="7.9" text-anchor="end" textLength="12.5" lengthAdjust="spacingAndGlyphs" fill="#222">100</text><text x="317.5" y="816.2" font-size="7.9" text-anchor="middle" textLength="4.3" lengthAdjust="spacingAndGlyphs" fill="#222">0</text><text x="336.03" y="816.2" font-size="7.9" text-anchor="middle" textLength="4.3" lengthAdjust="spacingAndGlyphs" fill="#222">2</text><text x="354.56" y="816.2" font-size="7.9" text-anchor="middle" textLength="4.3" lengthAdjust="spacingAndGlyphs" fill="#222">4</text><text x="373.09" y="816.2" font-size="7.9" text-anchor="middle" textLength="4.3" lengthAdjust="spacingAndGlyphs" fill="#222">6</text><text x="391.62" y="816.2" font-size="7.9" text-anchor="middle" textLength="4.3" lengthAdjust="spacingAndGlyphs" fill="#222">8</text><text x="410.15" y="816.2" font-size="7.9" text-anchor="middle" textLength="8.0" lengthAdjust="spacingAndGlyphs" fill="#222">10</text><text x="428.68" y="816.2" font-size="7.9" text-anchor="middle" textLength="8.0" lengthAdjust="spacingAndGlyphs" fill="#222">12</text><text x="447.21" y="816.2" font-size="7.9" text-anchor="middle" textLength="8.0" lengthAdjust="spacingAndGlyphs" fill="#222">14</text><text x="465.74" y="816.2" font-size="7.9" text-anchor="middle" textLength="8.0" lengthAdjust="spacingAndGlyphs" fill="#222">16</text><text x="484.27" y="816.2" font-size="7.9" text-anchor="middle" textLength="8.0" lengthAdjust="spacingAndGlyphs" fill="#222">18</text><text x="502.8" y="816.2" font-size="7.9" text-anchor="middle" textLength="8.0" lengthAdjust="spacingAndGlyphs" fill="#222">20</text><text transform="translate(287.8 740.4) rotate(-90)" font-size="10.83" text-anchor="middle" textLength="74.8" lengthAdjust="spacingAndGlyphs" fill="#111">Percent survival</text><text x="346.6" y="832.6" font-size="10.8" textLength="130.8" lengthAdjust="spacingAndGlyphs" fill="#111">Overall survival time (years)</text><path d="M364.2 683.7H375.1M370.05 683.7v-3" stroke="#64a940" stroke-width="1.3"/><text x="380.8" y="686" font-size="7" textLength="5.6" lengthAdjust="spacingAndGlyphs" fill="#222">PI</text><text x="386.7" y="681.6" font-size="4.0" style="stroke-width:0.1px" fill="#222">low</text><text x="394.4" y="686" font-size="7" textLength="111.8" lengthAdjust="spacingAndGlyphs" fill="#2a2a2a" style="stroke-width:0.1px;stroke:#2a2a2a">with wt-FLT3 (median OS=undefined)</text><path d="M364.2 694.9H375.1M370.05 694.9v-3" stroke="#2d528a" stroke-width="1.3"/><text x="380.8" y="697.2" font-size="7" textLength="5.6" lengthAdjust="spacingAndGlyphs" fill="#222">PI</text><text x="386.7" y="692.8" font-size="4.0" style="stroke-width:0.1px" fill="#222">int</text><text x="392.9" y="697.2" font-size="7" textLength="96.3" lengthAdjust="spacingAndGlyphs" fill="#2a2a2a" style="stroke-width:0.1px;stroke:#2a2a2a">with wt-FLT3 (median OS=1.67y)</text><path d="M364.2 706.2H375.1M370.05 706.2v-3" stroke="#ad2340" stroke-width="1.3"/><text x="380.8" y="708.5" font-size="7" textLength="5.6" lengthAdjust="spacingAndGlyphs" fill="#222">PI</text><text x="386.7" y="704.1" font-size="4.0" style="stroke-width:0.1px" fill="#222">high</text><text x="396.2" y="708.5" font-size="7" textLength="96.5" lengthAdjust="spacingAndGlyphs" fill="#2a2a2a" style="stroke-width:0.1px;stroke:#2a2a2a">with wt-FLT3 (median OS=0.81y)</text><text x="471" y="734.8" font-size="7.3" textLength="13.2" lengthAdjust="spacingAndGlyphs" fill="#222">52%</text><text x="477.7" y="757.7" font-size="7.3" textLength="13.5" lengthAdjust="spacingAndGlyphs" fill="#222">33%</text><text x="409.6" y="776" font-size="7.3" textLength="12.9" lengthAdjust="spacingAndGlyphs" fill="#222">17%</text><text x="324.8" y="796.1" font-size="6.8" fill="#222">X</text><text x="329.5" y="791.1" font-size="4" fill="#222">2</text><text x="331.4" y="796.1" font-size="6.8" textLength="47.2" lengthAdjust="spacingAndGlyphs" fill="#222">=58.3, P<0.0001</text><text x="278.75" y="843.75" font-size="6.4" textLength="43.75" lengthAdjust="spacingAndGlyphs" fill="#222">Number at risk</text><path d="M278.75 844.45H322.5" stroke="#333" stroke-width="0.6"/><text x="285" y="857.5" font-size="6.9" textLength="5.5" lengthAdjust="spacingAndGlyphs" fill="#222">PI</text><text x="291.1" y="852.7" font-size="4.1" style="stroke-width:0.1px" fill="#222">low</text><text x="297.3" y="857.5" font-size="6.8" fill="#222">:</text><text x="312.17" y="857.5" font-size="6.9" textLength="10.16" lengthAdjust="spacingAndGlyphs" fill="#222">121</text><text x="332.41" y="857.5" font-size="6.9" textLength="6.74" lengthAdjust="spacingAndGlyphs" fill="#222">85</text><text x="350.94" y="857.5" font-size="6.9" textLength="6.74" lengthAdjust="spacingAndGlyphs" fill="#222">74</text><text x="369.47" y="857.5" font-size="6.9" textLength="6.74" lengthAdjust="spacingAndGlyphs" fill="#222">60</text><text x="388" y="857.5" font-size="6.9" textLength="6.74" lengthAdjust="spacingAndGlyphs" fill="#222">46</text><text x="406.53" y="857.5" font-size="6.9" textLength="6.74" lengthAdjust="spacingAndGlyphs" fill="#222">41</text><text x="425.06" y="857.5" font-size="6.9" textLength="6.74" lengthAdjust="spacingAndGlyphs" fill="#222">24</text><text x="445.3" y="857.5" font-size="6.9" textLength="3.32" lengthAdjust="spacingAndGlyphs" fill="#222">8</text><text x="463.83" y="857.5" font-size="6.9" textLength="3.32" lengthAdjust="spacingAndGlyphs" fill="#222">4</text><text x="482.36" y="857.5" font-size="6.9" textLength="3.32" lengthAdjust="spacingAndGlyphs" fill="#222">1</text><text x="500.89" y="857.5" font-size="6.9" textLength="3.32" lengthAdjust="spacingAndGlyphs" fill="#222">0</text><text x="285" y="869.5" font-size="6.9" textLength="5.5" lengthAdjust="spacingAndGlyphs" fill="#222">PI</text><text x="291.1" y="864.7" font-size="4.1" style="stroke-width:0.1px" fill="#222">int</text><text x="295.6" y="869.5" font-size="6.8" fill="#222">:</text><text x="312.17" y="869.5" font-size="6.9" textLength="10.16" lengthAdjust="spacingAndGlyphs" fill="#222">191</text><text x="332.41" y="869.5" font-size="6.9" textLength="6.74" lengthAdjust="spacingAndGlyphs" fill="#222">88</text><text x="350.94" y="869.5" font-size="6.9" textLength="6.74" lengthAdjust="spacingAndGlyphs" fill="#222">72</text><text x="369.47" y="869.5" font-size="6.9" textLength="6.74" lengthAdjust="spacingAndGlyphs" fill="#222">52</text><text x="388" y="869.5" font-size="6.9" textLength="6.74" lengthAdjust="spacingAndGlyphs" fill="#222">34</text><text x="406.53" y="869.5" font-size="6.9" textLength="6.74" lengthAdjust="spacingAndGlyphs" fill="#222">24</text><text x="425.06" y="869.5" font-size="6.9" textLength="3.32" lengthAdjust="spacingAndGlyphs" fill="#222">8</text><text x="445.3" y="869.5" font-size="6.9" textLength="3.32" lengthAdjust="spacingAndGlyphs" fill="#222">7</text><text x="463.83" y="869.5" font-size="6.9" textLength="3.32" lengthAdjust="spacingAndGlyphs" fill="#222">3</text><text x="482.36" y="869.5" font-size="6.9" textLength="3.32" lengthAdjust="spacingAndGlyphs" fill="#222">1</text><text x="500.89" y="869.5" font-size="6.9" textLength="3.32" lengthAdjust="spacingAndGlyphs" fill="#222">0</text><text x="285" y="881.6" font-size="6.9" textLength="5.5" lengthAdjust="spacingAndGlyphs" fill="#222">PI</text><text x="291.1" y="876.8" font-size="4.1" style="stroke-width:0.1px" fill="#222">high</text><text x="299" y="881.6" font-size="6.8" fill="#222">:</text><text x="312.17" y="881.6" font-size="6.9" textLength="10.16" lengthAdjust="spacingAndGlyphs" fill="#222">107</text><text x="332.41" y="881.6" font-size="6.9" textLength="6.74" lengthAdjust="spacingAndGlyphs" fill="#222">30</text><text x="350.94" y="881.6" font-size="6.9" textLength="6.74" lengthAdjust="spacingAndGlyphs" fill="#222">21</text><text x="369.47" y="881.6" font-size="6.9" textLength="6.74" lengthAdjust="spacingAndGlyphs" fill="#222">14</text><text x="388" y="881.6" font-size="6.9" textLength="3.32" lengthAdjust="spacingAndGlyphs" fill="#222">5</text><text x="406.53" y="881.6" font-size="6.9" textLength="3.32" lengthAdjust="spacingAndGlyphs" fill="#222">3</text><text x="425.06" y="881.6" font-size="6.9" textLength="3.32" lengthAdjust="spacingAndGlyphs" fill="#222">1</text><text x="445.3" y="881.6" font-size="6.9" textLength="3.32" lengthAdjust="spacingAndGlyphs" fill="#222">0</text><text x="463.83" y="881.6" font-size="6.9" textLength="3.32" lengthAdjust="spacingAndGlyphs" fill="#222">0</text><text x="482.36" y="881.6" font-size="6.9" textLength="3.32" lengthAdjust="spacingAndGlyphs" fill="#222">0</text><text x="500.89" y="881.6" font-size="6.9" textLength="3.32" lengthAdjust="spacingAndGlyphs" fill="#222">0</text></g>
<text x="12.0" y="22.6" font-size="14" textLength="8.9" lengthAdjust="spacingAndGlyphs" fill="#111" style="stroke-width:0.3px;stroke:#111">A</text>
<text x="10.4" y="470.6" font-size="14" textLength="7.6" lengthAdjust="spacingAndGlyphs" fill="#111" style="stroke-width:0.3px;stroke:#111">B</text>
<rect x="0.75" y="0.75" width="518.5" height="891.5" fill="none" stroke="#5a5a5a" stroke-width="1.5"/>
</svg></body></html>
